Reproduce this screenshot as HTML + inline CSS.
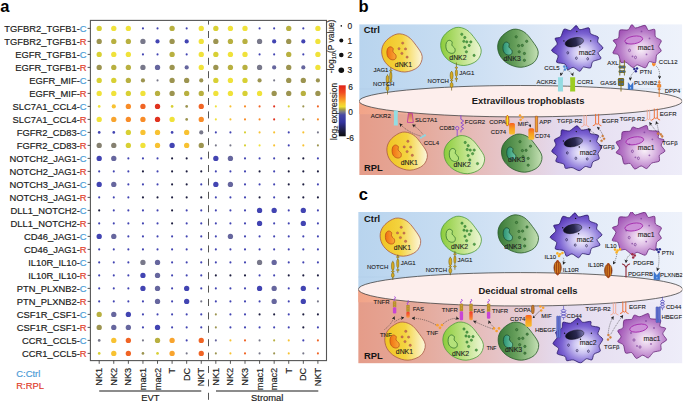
<!DOCTYPE html>
<html><head><meta charset="utf-8"><style>
html,body{margin:0;padding:0;background:#fff;}
svg{display:block;}
text{font-family:"Liberation Sans",sans-serif;}
.yl{font-size:9.4px;fill:#1c1c1c;stroke:#1c1c1c;stroke-width:0.18px;}
.xl{font-size:9.2px;fill:#1c1c1c;stroke:#1c1c1c;stroke-width:0.18px;}
.pl{font-size:16.5px;font-weight:bold;fill:#000;}
.lg{font-size:8.4px;fill:#1c1c1c;stroke:#1c1c1c;stroke-width:0.15px;}
.et{font-size:9.4px;font-weight:bold;fill:#1a1a1a;}
.ct{font-size:9.4px;font-weight:bold;fill:#141414;}
.cl{font-size:6.9px;fill:#1e1e1e;stroke:#1e1e1e;stroke-width:0.12px;}
.rl{font-size:6px;fill:#1a1a1a;stroke:#1a1a1a;stroke-width:0.1px;}
</style></head><body>
<svg width="685" height="402" viewBox="0 0 685 402">
<defs>
<linearGradient id="gNK1" x1="0" y1="0" x2="1" y2="0"><stop offset="0" stop-color="#f0c424"/><stop offset="0.5" stop-color="#f4d440"/><stop offset="1" stop-color="#fcf6dc"/></linearGradient>
<linearGradient id="gNK2" x1="0" y1="0" x2="1" y2="0"><stop offset="0" stop-color="#8ccc3c"/><stop offset="0.45" stop-color="#b8e07c"/><stop offset="1" stop-color="#eef6d6"/></linearGradient>
<linearGradient id="gNK3" x1="0" y1="0" x2="1" y2="0"><stop offset="0" stop-color="#387838"/><stop offset="0.45" stop-color="#68a05c"/><stop offset="1" stop-color="#c4e0b4"/></linearGradient>
<linearGradient id="gNuc1" x1="0" y1="0" x2="1" y2="0"><stop offset="0" stop-color="#f07010"/><stop offset="1" stop-color="#f8a838"/></linearGradient>
<linearGradient id="gNuc3" x1="0" y1="0" x2="1" y2="0"><stop offset="0" stop-color="#2a9070"/><stop offset="1" stop-color="#70c8a8"/></linearGradient>
<radialGradient id="gMac2" cx="0.6" cy="0.6" r="0.6"><stop offset="0" stop-color="#f6f4fe"/><stop offset="0.3" stop-color="#ccc4f2"/><stop offset="0.7" stop-color="#7c64d2"/><stop offset="1" stop-color="#5636b6"/></radialGradient>
<radialGradient id="gMac1" cx="0.58" cy="0.58" r="0.6"><stop offset="0" stop-color="#f8f0f8"/><stop offset="0.3" stop-color="#e2c4e8"/><stop offset="0.7" stop-color="#b87cc8"/><stop offset="1" stop-color="#a050b4"/></radialGradient>
<linearGradient id="gMN2" x1="0" y1="0" x2="1" y2="0"><stop offset="0" stop-color="#0c0c1c"/><stop offset="0.6" stop-color="#2a2850"/><stop offset="1" stop-color="#7a78b0"/></linearGradient>
<linearGradient id="gTop" x1="0" y1="0" x2="1" y2="0"><stop offset="0" stop-color="#b8d4ee"/><stop offset="0.3" stop-color="#c8ddf2"/><stop offset="0.6" stop-color="#dfe9f7"/><stop offset="1" stop-color="#eef2fb"/></linearGradient>
<linearGradient id="gBot" x1="0" y1="0" x2="1" y2="0"><stop offset="0" stop-color="#e59c89"/><stop offset="0.2" stop-color="#e5aa9c"/><stop offset="0.42" stop-color="#e6c2c4"/><stop offset="0.62" stop-color="#e4daee"/><stop offset="1" stop-color="#eeedf9"/></linearGradient>
<linearGradient id="gBand" x1="0" y1="0" x2="1" y2="0"><stop offset="0" stop-color="#f2a488"/><stop offset="0.2" stop-color="#eeb4a4"/><stop offset="0.42" stop-color="#ecc8c8"/><stop offset="0.62" stop-color="#e8def0"/><stop offset="1" stop-color="#efeefa"/></linearGradient>
<linearGradient id="gCD74" x1="0" y1="0" x2="0" y2="1"><stop offset="0" stop-color="#f86020"/><stop offset="0.5" stop-color="#f8a020"/><stop offset="1" stop-color="#f8c030"/></linearGradient>
<linearGradient id="gSlc" x1="0" y1="0" x2="0" y2="1"><stop offset="0" stop-color="#c86a50"/><stop offset="1" stop-color="#f4b484"/></linearGradient>
<linearGradient id="gFas" x1="0" y1="0" x2="0" y2="1"><stop offset="0" stop-color="#f03c28"/><stop offset="0.6" stop-color="#f86a30"/><stop offset="1" stop-color="#f8a040"/></linearGradient>
<marker id="ah" viewBox="0 0 6 6" refX="5" refY="3" markerWidth="6.6" markerHeight="6.6" orient="auto"><path d="M0,0 L6,3 L0,6 L1.5,3 Z" fill="#222"/></marker>
<clipPath id="clipB"><rect x="359.2" y="24.2" width="323" height="150.9"/></clipPath><clipPath id="clipC"><rect x="358.2" y="212" width="324.2" height="151.4"/></clipPath></defs>
<rect x="90.4" y="20.4" width="236.1" height="340.20000000000005" fill="none" stroke="#555" stroke-width="1.1"/>
<line x1="208.5" y1="20.4" x2="208.5" y2="402" stroke="#555" stroke-width="1" stroke-dasharray="7 6.4" stroke-dashoffset="2.8"/>
<line x1="87.6" y1="28.40" x2="90.4" y2="28.40" stroke="#444" stroke-width="0.9"/>
<text x="86.6" y="31.70" text-anchor="end" class="yl">TGFBR2_TGFB1-<tspan style="fill:#4b9cd6;stroke:#4b9cd6">C</tspan></text>
<line x1="87.6" y1="41.40" x2="90.4" y2="41.40" stroke="#444" stroke-width="0.9"/>
<text x="86.6" y="44.70" text-anchor="end" class="yl">TGFBR2_TGFB1-<tspan style="fill:#e0402c;stroke:#e0402c">R</tspan></text>
<line x1="87.6" y1="54.40" x2="90.4" y2="54.40" stroke="#444" stroke-width="0.9"/>
<text x="86.6" y="57.70" text-anchor="end" class="yl">EGFR_TGFB1-<tspan style="fill:#4b9cd6;stroke:#4b9cd6">C</tspan></text>
<line x1="87.6" y1="67.40" x2="90.4" y2="67.40" stroke="#444" stroke-width="0.9"/>
<text x="86.6" y="70.70" text-anchor="end" class="yl">EGFR_TGFB1-<tspan style="fill:#e0402c;stroke:#e0402c">R</tspan></text>
<line x1="87.6" y1="80.40" x2="90.4" y2="80.40" stroke="#444" stroke-width="0.9"/>
<text x="86.6" y="83.70" text-anchor="end" class="yl">EGFR_MIF-<tspan style="fill:#4b9cd6;stroke:#4b9cd6">C</tspan></text>
<line x1="87.6" y1="93.40" x2="90.4" y2="93.40" stroke="#444" stroke-width="0.9"/>
<text x="86.6" y="96.70" text-anchor="end" class="yl">EGFR_MIF-<tspan style="fill:#e0402c;stroke:#e0402c">R</tspan></text>
<line x1="87.6" y1="106.40" x2="90.4" y2="106.40" stroke="#444" stroke-width="0.9"/>
<text x="86.6" y="109.70" text-anchor="end" class="yl">SLC7A1_CCL4-<tspan style="fill:#4b9cd6;stroke:#4b9cd6">C</tspan></text>
<line x1="87.6" y1="119.40" x2="90.4" y2="119.40" stroke="#444" stroke-width="0.9"/>
<text x="86.6" y="122.70" text-anchor="end" class="yl">SLC7A1_CCL4-<tspan style="fill:#e0402c;stroke:#e0402c">R</tspan></text>
<line x1="87.6" y1="132.40" x2="90.4" y2="132.40" stroke="#444" stroke-width="0.9"/>
<text x="86.6" y="135.70" text-anchor="end" class="yl">FGFR2_CD83-<tspan style="fill:#4b9cd6;stroke:#4b9cd6">C</tspan></text>
<line x1="87.6" y1="145.40" x2="90.4" y2="145.40" stroke="#444" stroke-width="0.9"/>
<text x="86.6" y="148.70" text-anchor="end" class="yl">FGFR2_CD83-<tspan style="fill:#e0402c;stroke:#e0402c">R</tspan></text>
<line x1="87.6" y1="158.40" x2="90.4" y2="158.40" stroke="#444" stroke-width="0.9"/>
<text x="86.6" y="161.70" text-anchor="end" class="yl">NOTCH2_JAG1-<tspan style="fill:#4b9cd6;stroke:#4b9cd6">C</tspan></text>
<line x1="87.6" y1="171.40" x2="90.4" y2="171.40" stroke="#444" stroke-width="0.9"/>
<text x="86.6" y="174.70" text-anchor="end" class="yl">NOTCH2_JAG1-<tspan style="fill:#e0402c;stroke:#e0402c">R</tspan></text>
<line x1="87.6" y1="184.40" x2="90.4" y2="184.40" stroke="#444" stroke-width="0.9"/>
<text x="86.6" y="187.70" text-anchor="end" class="yl">NOTCH3_JAG1-<tspan style="fill:#4b9cd6;stroke:#4b9cd6">C</tspan></text>
<line x1="87.6" y1="197.40" x2="90.4" y2="197.40" stroke="#444" stroke-width="0.9"/>
<text x="86.6" y="200.70" text-anchor="end" class="yl">NOTCH3_JAG1-<tspan style="fill:#e0402c;stroke:#e0402c">R</tspan></text>
<line x1="87.6" y1="210.40" x2="90.4" y2="210.40" stroke="#444" stroke-width="0.9"/>
<text x="86.6" y="213.70" text-anchor="end" class="yl">DLL1_NOTCH2-<tspan style="fill:#4b9cd6;stroke:#4b9cd6">C</tspan></text>
<line x1="87.6" y1="223.40" x2="90.4" y2="223.40" stroke="#444" stroke-width="0.9"/>
<text x="86.6" y="226.70" text-anchor="end" class="yl">DLL1_NOTCH2-<tspan style="fill:#e0402c;stroke:#e0402c">R</tspan></text>
<line x1="87.6" y1="236.40" x2="90.4" y2="236.40" stroke="#444" stroke-width="0.9"/>
<text x="86.6" y="239.70" text-anchor="end" class="yl">CD46_JAG1-<tspan style="fill:#4b9cd6;stroke:#4b9cd6">C</tspan></text>
<line x1="87.6" y1="249.40" x2="90.4" y2="249.40" stroke="#444" stroke-width="0.9"/>
<text x="86.6" y="252.70" text-anchor="end" class="yl">CD46_JAG1-<tspan style="fill:#e0402c;stroke:#e0402c">R</tspan></text>
<line x1="87.6" y1="262.40" x2="90.4" y2="262.40" stroke="#444" stroke-width="0.9"/>
<text x="86.6" y="265.70" text-anchor="end" class="yl">IL10R_IL10-<tspan style="fill:#4b9cd6;stroke:#4b9cd6">C</tspan></text>
<line x1="87.6" y1="275.40" x2="90.4" y2="275.40" stroke="#444" stroke-width="0.9"/>
<text x="86.6" y="278.70" text-anchor="end" class="yl">IL10R_IL10-<tspan style="fill:#e0402c;stroke:#e0402c">R</tspan></text>
<line x1="87.6" y1="288.40" x2="90.4" y2="288.40" stroke="#444" stroke-width="0.9"/>
<text x="86.6" y="291.70" text-anchor="end" class="yl">PTN_PLXNB2-<tspan style="fill:#4b9cd6;stroke:#4b9cd6">C</tspan></text>
<line x1="87.6" y1="301.40" x2="90.4" y2="301.40" stroke="#444" stroke-width="0.9"/>
<text x="86.6" y="304.70" text-anchor="end" class="yl">PTN_PLXNB2-<tspan style="fill:#e0402c;stroke:#e0402c">R</tspan></text>
<line x1="87.6" y1="314.40" x2="90.4" y2="314.40" stroke="#444" stroke-width="0.9"/>
<text x="86.6" y="317.70" text-anchor="end" class="yl">CSF1R_CSF1-<tspan style="fill:#4b9cd6;stroke:#4b9cd6">C</tspan></text>
<line x1="87.6" y1="327.40" x2="90.4" y2="327.40" stroke="#444" stroke-width="0.9"/>
<text x="86.6" y="330.70" text-anchor="end" class="yl">CSF1R_CSF1-<tspan style="fill:#e0402c;stroke:#e0402c">R</tspan></text>
<line x1="87.6" y1="340.40" x2="90.4" y2="340.40" stroke="#444" stroke-width="0.9"/>
<text x="86.6" y="343.70" text-anchor="end" class="yl">CCR1_CCL5-<tspan style="fill:#4b9cd6;stroke:#4b9cd6">C</tspan></text>
<line x1="87.6" y1="353.40" x2="90.4" y2="353.40" stroke="#444" stroke-width="0.9"/>
<text x="86.6" y="356.70" text-anchor="end" class="yl">CCR1_CCL5-<tspan style="fill:#e0402c;stroke:#e0402c">R</tspan></text>
<circle cx="99.20" cy="28.40" r="2.65" fill="#d8d034"/>
<circle cx="113.78" cy="28.40" r="2.65" fill="#f0e23a"/>
<circle cx="128.36" cy="28.40" r="2.65" fill="#f0e23a"/>
<circle cx="142.94" cy="28.40" r="1.05" fill="#4244b2"/>
<circle cx="157.52" cy="28.40" r="1.05" fill="#4244b2"/>
<circle cx="172.10" cy="28.40" r="2.65" fill="#b8b040"/>
<circle cx="186.68" cy="28.40" r="1.05" fill="#4244b2"/>
<circle cx="201.26" cy="28.40" r="2.65" fill="#f0e23a"/>
<circle cx="215.84" cy="28.40" r="2.65" fill="#d8d034"/>
<circle cx="230.42" cy="28.40" r="2.65" fill="#f0e23a"/>
<circle cx="245.00" cy="28.40" r="2.65" fill="#f0e23a"/>
<circle cx="259.58" cy="28.40" r="1.05" fill="#4244b2"/>
<circle cx="274.16" cy="28.40" r="1.05" fill="#4244b2"/>
<circle cx="288.74" cy="28.40" r="2.65" fill="#b8b040"/>
<circle cx="303.32" cy="28.40" r="1.05" fill="#4244b2"/>
<circle cx="317.90" cy="28.40" r="2.65" fill="#f0e23a"/>
<circle cx="99.20" cy="41.40" r="2.65" fill="#9c9450"/>
<circle cx="113.78" cy="41.40" r="2.65" fill="#b8b040"/>
<circle cx="128.36" cy="41.40" r="2.65" fill="#b8b040"/>
<circle cx="142.94" cy="41.40" r="2.65" fill="#78788a"/>
<circle cx="157.52" cy="41.40" r="2.1" fill="#4244b2"/>
<circle cx="172.10" cy="41.40" r="2.65" fill="#9c9450"/>
<circle cx="186.68" cy="41.40" r="2.1" fill="#4244b2"/>
<circle cx="201.26" cy="41.40" r="2.65" fill="#f0e23a"/>
<circle cx="215.84" cy="41.40" r="2.65" fill="#9c9450"/>
<circle cx="230.42" cy="41.40" r="2.65" fill="#b8b040"/>
<circle cx="245.00" cy="41.40" r="2.65" fill="#b8b040"/>
<circle cx="259.58" cy="41.40" r="2.65" fill="#78788a"/>
<circle cx="274.16" cy="41.40" r="2.1" fill="#4244b2"/>
<circle cx="288.74" cy="41.40" r="2.65" fill="#9c9450"/>
<circle cx="303.32" cy="41.40" r="2.1" fill="#4244b2"/>
<circle cx="317.90" cy="41.40" r="2.65" fill="#f0e23a"/>
<circle cx="99.20" cy="54.40" r="2.65" fill="#d8d034"/>
<circle cx="113.78" cy="54.40" r="2.65" fill="#f0e23a"/>
<circle cx="128.36" cy="54.40" r="2.65" fill="#f0e23a"/>
<circle cx="142.94" cy="54.40" r="1.05" fill="#4244b2"/>
<circle cx="157.52" cy="54.40" r="1.05" fill="#4244b2"/>
<circle cx="172.10" cy="54.40" r="2.65" fill="#b8b040"/>
<circle cx="186.68" cy="54.40" r="1.05" fill="#4244b2"/>
<circle cx="201.26" cy="54.40" r="2.65" fill="#f0e23a"/>
<circle cx="215.84" cy="54.40" r="2.65" fill="#d8d034"/>
<circle cx="230.42" cy="54.40" r="2.65" fill="#f0e23a"/>
<circle cx="245.00" cy="54.40" r="2.65" fill="#f0e23a"/>
<circle cx="259.58" cy="54.40" r="1.05" fill="#4244b2"/>
<circle cx="274.16" cy="54.40" r="1.05" fill="#4244b2"/>
<circle cx="288.74" cy="54.40" r="2.65" fill="#b8b040"/>
<circle cx="303.32" cy="54.40" r="1.05" fill="#4244b2"/>
<circle cx="317.90" cy="54.40" r="2.65" fill="#f0e23a"/>
<circle cx="99.20" cy="67.40" r="2.65" fill="#9c9450"/>
<circle cx="113.78" cy="67.40" r="2.65" fill="#b8b040"/>
<circle cx="128.36" cy="67.40" r="2.65" fill="#b8b040"/>
<circle cx="142.94" cy="67.40" r="2.65" fill="#78788a"/>
<circle cx="157.52" cy="67.40" r="2.65" fill="#66669e"/>
<circle cx="172.10" cy="67.40" r="2.65" fill="#9c9450"/>
<circle cx="186.68" cy="67.40" r="2.1" fill="#66669e"/>
<circle cx="201.26" cy="67.40" r="2.65" fill="#f0e23a"/>
<circle cx="215.84" cy="67.40" r="2.65" fill="#9c9450"/>
<circle cx="230.42" cy="67.40" r="2.65" fill="#b8b040"/>
<circle cx="245.00" cy="67.40" r="2.65" fill="#b8b040"/>
<circle cx="259.58" cy="67.40" r="2.65" fill="#78788a"/>
<circle cx="274.16" cy="67.40" r="2.1" fill="#66669e"/>
<circle cx="288.74" cy="67.40" r="2.65" fill="#9c9450"/>
<circle cx="303.32" cy="67.40" r="2.1" fill="#66669e"/>
<circle cx="317.90" cy="67.40" r="2.65" fill="#f0e23a"/>
<circle cx="99.20" cy="80.40" r="2.65" fill="#d8d034"/>
<circle cx="113.78" cy="80.40" r="2.65" fill="#d8d034"/>
<circle cx="128.36" cy="80.40" r="2.65" fill="#b8b040"/>
<circle cx="142.94" cy="80.40" r="2.1" fill="#9c9450"/>
<circle cx="157.52" cy="80.40" r="1.05" fill="#78788a"/>
<circle cx="172.10" cy="80.40" r="2.65" fill="#9c9450"/>
<circle cx="186.68" cy="80.40" r="2.65" fill="#9c9450"/>
<circle cx="201.26" cy="80.40" r="2.1" fill="#9c9450"/>
<circle cx="215.84" cy="80.40" r="2.65" fill="#d8d034"/>
<circle cx="230.42" cy="80.40" r="2.65" fill="#f0e23a"/>
<circle cx="245.00" cy="80.40" r="2.65" fill="#d8d034"/>
<circle cx="259.58" cy="80.40" r="2.1" fill="#9c9450"/>
<circle cx="274.16" cy="80.40" r="1.05" fill="#78788a"/>
<circle cx="288.74" cy="80.40" r="2.65" fill="#9c9450"/>
<circle cx="303.32" cy="80.40" r="2.65" fill="#9c9450"/>
<circle cx="317.90" cy="80.40" r="2.1" fill="#9c9450"/>
<circle cx="99.20" cy="93.40" r="2.65" fill="#f0e23a"/>
<circle cx="113.78" cy="93.40" r="2.65" fill="#f0e23a"/>
<circle cx="128.36" cy="93.40" r="2.65" fill="#d8d034"/>
<circle cx="142.94" cy="93.40" r="2.65" fill="#f0e23a"/>
<circle cx="157.52" cy="93.40" r="2.65" fill="#b8b040"/>
<circle cx="172.10" cy="93.40" r="2.65" fill="#9c9450"/>
<circle cx="186.68" cy="93.40" r="2.65" fill="#b8b040"/>
<circle cx="201.26" cy="93.40" r="2.65" fill="#b8b040"/>
<circle cx="215.84" cy="93.40" r="2.65" fill="#f0e23a"/>
<circle cx="230.42" cy="93.40" r="2.65" fill="#f0e23a"/>
<circle cx="245.00" cy="93.40" r="2.65" fill="#d8d034"/>
<circle cx="259.58" cy="93.40" r="2.65" fill="#f0e23a"/>
<circle cx="274.16" cy="93.40" r="2.65" fill="#9c9450"/>
<circle cx="288.74" cy="93.40" r="2.65" fill="#9c9450"/>
<circle cx="303.32" cy="93.40" r="2.65" fill="#b8b040"/>
<circle cx="317.90" cy="93.40" r="2.65" fill="#9c9450"/>
<circle cx="99.20" cy="106.40" r="1.35" fill="#f0e23a"/>
<circle cx="113.78" cy="106.40" r="2.1" fill="#f8c232"/>
<circle cx="128.36" cy="106.40" r="2.65" fill="#f88c28"/>
<circle cx="142.94" cy="106.40" r="2.65" fill="#f06424"/>
<circle cx="157.52" cy="106.40" r="2.65" fill="#e0321e"/>
<circle cx="172.10" cy="106.40" r="1.35" fill="#d8d034"/>
<circle cx="186.68" cy="106.40" r="1.35" fill="#9c9450"/>
<circle cx="201.26" cy="106.40" r="2.65" fill="#f06424"/>
<circle cx="215.84" cy="106.40" r="1.05" fill="#f0e23a"/>
<circle cx="230.42" cy="106.40" r="1.05" fill="#f8c232"/>
<circle cx="245.00" cy="106.40" r="1.05" fill="#f88c28"/>
<circle cx="259.58" cy="106.40" r="1.05" fill="#f06424"/>
<circle cx="274.16" cy="106.40" r="1.05" fill="#e0321e"/>
<circle cx="288.74" cy="106.40" r="1.05" fill="#d8d034"/>
<circle cx="303.32" cy="106.40" r="1.05" fill="#9c9450"/>
<circle cx="317.90" cy="106.40" r="1.05" fill="#f06424"/>
<circle cx="99.20" cy="119.40" r="2.65" fill="#f0e23a"/>
<circle cx="113.78" cy="119.40" r="2.65" fill="#f8a42e"/>
<circle cx="128.36" cy="119.40" r="2.65" fill="#f88c28"/>
<circle cx="142.94" cy="119.40" r="2.65" fill="#f88c28"/>
<circle cx="157.52" cy="119.40" r="2.65" fill="#e0321e"/>
<circle cx="172.10" cy="119.40" r="2.65" fill="#f0e23a"/>
<circle cx="186.68" cy="119.40" r="1.35" fill="#9c9450"/>
<circle cx="201.26" cy="119.40" r="2.65" fill="#f88c28"/>
<circle cx="215.84" cy="119.40" r="1.05" fill="#f0e23a"/>
<circle cx="230.42" cy="119.40" r="1.05" fill="#f8c232"/>
<circle cx="245.00" cy="119.40" r="1.05" fill="#f88c28"/>
<circle cx="259.58" cy="119.40" r="1.05" fill="#f88c28"/>
<circle cx="274.16" cy="119.40" r="1.05" fill="#e0321e"/>
<circle cx="288.74" cy="119.40" r="1.05" fill="#f0e23a"/>
<circle cx="303.32" cy="119.40" r="1.05" fill="#9c9450"/>
<circle cx="317.90" cy="119.40" r="1.05" fill="#f88c28"/>
<circle cx="99.20" cy="132.40" r="1.35" fill="#4244b2"/>
<circle cx="113.78" cy="132.40" r="1.35" fill="#4244b2"/>
<circle cx="128.36" cy="132.40" r="2.65" fill="#d8d034"/>
<circle cx="142.94" cy="132.40" r="2.65" fill="#f8c232"/>
<circle cx="157.52" cy="132.40" r="2.65" fill="#f8c232"/>
<circle cx="172.10" cy="132.40" r="1.35" fill="#4244b2"/>
<circle cx="186.68" cy="132.40" r="2.65" fill="#f8c232"/>
<circle cx="201.26" cy="132.40" r="2.1" fill="#78788a"/>
<circle cx="215.84" cy="132.40" r="1.05" fill="#4244b2"/>
<circle cx="230.42" cy="132.40" r="1.05" fill="#4244b2"/>
<circle cx="245.00" cy="132.40" r="1.05" fill="#d8d034"/>
<circle cx="259.58" cy="132.40" r="1.05" fill="#f8c232"/>
<circle cx="274.16" cy="132.40" r="1.05" fill="#f8c232"/>
<circle cx="288.74" cy="132.40" r="1.05" fill="#4244b2"/>
<circle cx="303.32" cy="132.40" r="1.05" fill="#f8c232"/>
<circle cx="317.90" cy="132.40" r="1.05" fill="#78788a"/>
<circle cx="99.20" cy="145.40" r="2.65" fill="#858070"/>
<circle cx="113.78" cy="145.40" r="2.65" fill="#858070"/>
<circle cx="128.36" cy="145.40" r="2.65" fill="#d8d034"/>
<circle cx="142.94" cy="145.40" r="2.65" fill="#f0e23a"/>
<circle cx="157.52" cy="145.40" r="2.65" fill="#f8c232"/>
<circle cx="172.10" cy="145.40" r="2.65" fill="#4244b2"/>
<circle cx="186.68" cy="145.40" r="2.65" fill="#f8c232"/>
<circle cx="201.26" cy="145.40" r="2.65" fill="#9c9450"/>
<circle cx="215.84" cy="145.40" r="1.05" fill="#78788a"/>
<circle cx="230.42" cy="145.40" r="1.05" fill="#78788a"/>
<circle cx="245.00" cy="145.40" r="1.05" fill="#d8d034"/>
<circle cx="259.58" cy="145.40" r="1.05" fill="#f0e23a"/>
<circle cx="274.16" cy="145.40" r="1.05" fill="#f8c232"/>
<circle cx="288.74" cy="145.40" r="1.05" fill="#4244b2"/>
<circle cx="303.32" cy="145.40" r="1.05" fill="#f8c232"/>
<circle cx="317.90" cy="145.40" r="1.05" fill="#9c9450"/>
<circle cx="99.20" cy="158.40" r="2.65" fill="#4244b2"/>
<circle cx="113.78" cy="158.40" r="2.65" fill="#66669e"/>
<circle cx="128.36" cy="158.40" r="1.05" fill="#4244b2"/>
<circle cx="142.94" cy="158.40" r="1.05" fill="#4244b2"/>
<circle cx="157.52" cy="158.40" r="1.05" fill="#4244b2"/>
<circle cx="172.10" cy="158.40" r="1.05" fill="#1e1e40"/>
<circle cx="186.68" cy="158.40" r="1.05" fill="#1e1e40"/>
<circle cx="201.26" cy="158.40" r="1.05" fill="#4244b2"/>
<circle cx="215.84" cy="158.40" r="2.65" fill="#4244b2"/>
<circle cx="230.42" cy="158.40" r="2.65" fill="#66669e"/>
<circle cx="245.00" cy="158.40" r="1.05" fill="#4244b2"/>
<circle cx="259.58" cy="158.40" r="1.05" fill="#4244b2"/>
<circle cx="274.16" cy="158.40" r="1.05" fill="#4244b2"/>
<circle cx="288.74" cy="158.40" r="1.05" fill="#1e1e40"/>
<circle cx="303.32" cy="158.40" r="1.05" fill="#1e1e40"/>
<circle cx="317.90" cy="158.40" r="1.05" fill="#4244b2"/>
<circle cx="99.20" cy="171.40" r="1.05" fill="#4244b2"/>
<circle cx="113.78" cy="171.40" r="1.05" fill="#4244b2"/>
<circle cx="128.36" cy="171.40" r="1.05" fill="#4244b2"/>
<circle cx="142.94" cy="171.40" r="1.05" fill="#1e1e40"/>
<circle cx="157.52" cy="171.40" r="1.05" fill="#4244b2"/>
<circle cx="172.10" cy="171.40" r="1.05" fill="#1e1e40"/>
<circle cx="186.68" cy="171.40" r="1.05" fill="#1e1e40"/>
<circle cx="201.26" cy="171.40" r="1.05" fill="#1e1e40"/>
<circle cx="215.84" cy="171.40" r="1.05" fill="#4244b2"/>
<circle cx="230.42" cy="171.40" r="1.05" fill="#4244b2"/>
<circle cx="245.00" cy="171.40" r="1.05" fill="#4244b2"/>
<circle cx="259.58" cy="171.40" r="1.05" fill="#1e1e40"/>
<circle cx="274.16" cy="171.40" r="1.05" fill="#4244b2"/>
<circle cx="288.74" cy="171.40" r="1.05" fill="#1e1e40"/>
<circle cx="303.32" cy="171.40" r="1.05" fill="#1e1e40"/>
<circle cx="317.90" cy="171.40" r="1.05" fill="#1e1e40"/>
<circle cx="99.20" cy="184.40" r="2.65" fill="#4244b2"/>
<circle cx="113.78" cy="184.40" r="2.65" fill="#66669e"/>
<circle cx="128.36" cy="184.40" r="1.05" fill="#4244b2"/>
<circle cx="142.94" cy="184.40" r="1.05" fill="#4244b2"/>
<circle cx="157.52" cy="184.40" r="1.05" fill="#4244b2"/>
<circle cx="172.10" cy="184.40" r="1.05" fill="#1e1e40"/>
<circle cx="186.68" cy="184.40" r="1.05" fill="#1e1e40"/>
<circle cx="201.26" cy="184.40" r="1.05" fill="#4244b2"/>
<circle cx="215.84" cy="184.40" r="2.65" fill="#4244b2"/>
<circle cx="230.42" cy="184.40" r="2.65" fill="#66669e"/>
<circle cx="245.00" cy="184.40" r="1.05" fill="#4244b2"/>
<circle cx="259.58" cy="184.40" r="1.05" fill="#4244b2"/>
<circle cx="274.16" cy="184.40" r="1.05" fill="#4244b2"/>
<circle cx="288.74" cy="184.40" r="1.05" fill="#1e1e40"/>
<circle cx="303.32" cy="184.40" r="1.05" fill="#1e1e40"/>
<circle cx="317.90" cy="184.40" r="1.05" fill="#4244b2"/>
<circle cx="99.20" cy="197.40" r="1.05" fill="#4244b2"/>
<circle cx="113.78" cy="197.40" r="1.05" fill="#4244b2"/>
<circle cx="128.36" cy="197.40" r="1.05" fill="#4244b2"/>
<circle cx="142.94" cy="197.40" r="1.05" fill="#1e1e40"/>
<circle cx="157.52" cy="197.40" r="1.05" fill="#1e1e40"/>
<circle cx="172.10" cy="197.40" r="1.05" fill="#1e1e40"/>
<circle cx="186.68" cy="197.40" r="1.05" fill="#1e1e40"/>
<circle cx="201.26" cy="197.40" r="1.05" fill="#1e1e40"/>
<circle cx="215.84" cy="197.40" r="1.05" fill="#4244b2"/>
<circle cx="230.42" cy="197.40" r="1.05" fill="#4244b2"/>
<circle cx="245.00" cy="197.40" r="1.05" fill="#4244b2"/>
<circle cx="259.58" cy="197.40" r="1.05" fill="#1e1e40"/>
<circle cx="274.16" cy="197.40" r="1.05" fill="#4244b2"/>
<circle cx="288.74" cy="197.40" r="1.05" fill="#1e1e40"/>
<circle cx="303.32" cy="197.40" r="1.05" fill="#1e1e40"/>
<circle cx="317.90" cy="197.40" r="1.05" fill="#1e1e40"/>
<circle cx="99.20" cy="210.40" r="1.05" fill="#1e1e40"/>
<circle cx="113.78" cy="210.40" r="1.05" fill="#4244b2"/>
<circle cx="128.36" cy="210.40" r="1.05" fill="#4244b2"/>
<circle cx="142.94" cy="210.40" r="1.05" fill="#4244b2"/>
<circle cx="157.52" cy="210.40" r="1.05" fill="#4244b2"/>
<circle cx="172.10" cy="210.40" r="1.05" fill="#1e1e40"/>
<circle cx="186.68" cy="210.40" r="1.05" fill="#4244b2"/>
<circle cx="201.26" cy="210.40" r="1.05" fill="#4244b2"/>
<circle cx="215.84" cy="210.40" r="1.05" fill="#4244b2"/>
<circle cx="230.42" cy="210.40" r="1.05" fill="#4244b2"/>
<circle cx="245.00" cy="210.40" r="1.05" fill="#4244b2"/>
<circle cx="259.58" cy="210.40" r="2.65" fill="#4244b2"/>
<circle cx="274.16" cy="210.40" r="2.65" fill="#4244b2"/>
<circle cx="288.74" cy="210.40" r="1.05" fill="#4244b2"/>
<circle cx="303.32" cy="210.40" r="2.65" fill="#4244b2"/>
<circle cx="317.90" cy="210.40" r="1.05" fill="#4244b2"/>
<circle cx="99.20" cy="223.40" r="1.05" fill="#4244b2"/>
<circle cx="113.78" cy="223.40" r="1.05" fill="#4244b2"/>
<circle cx="128.36" cy="223.40" r="1.05" fill="#4244b2"/>
<circle cx="142.94" cy="223.40" r="1.05" fill="#4244b2"/>
<circle cx="157.52" cy="223.40" r="1.05" fill="#4244b2"/>
<circle cx="172.10" cy="223.40" r="1.05" fill="#1e1e40"/>
<circle cx="186.68" cy="223.40" r="1.05" fill="#4244b2"/>
<circle cx="201.26" cy="223.40" r="1.05" fill="#4244b2"/>
<circle cx="215.84" cy="223.40" r="1.05" fill="#4244b2"/>
<circle cx="230.42" cy="223.40" r="1.05" fill="#4244b2"/>
<circle cx="245.00" cy="223.40" r="1.05" fill="#4244b2"/>
<circle cx="259.58" cy="223.40" r="2.65" fill="#4244b2"/>
<circle cx="274.16" cy="223.40" r="1.05" fill="#4244b2"/>
<circle cx="288.74" cy="223.40" r="1.05" fill="#4244b2"/>
<circle cx="303.32" cy="223.40" r="2.65" fill="#4244b2"/>
<circle cx="317.90" cy="223.40" r="1.05" fill="#4244b2"/>
<circle cx="99.20" cy="236.40" r="2.65" fill="#4244b2"/>
<circle cx="113.78" cy="236.40" r="2.65" fill="#66669e"/>
<circle cx="128.36" cy="236.40" r="1.05" fill="#4244b2"/>
<circle cx="142.94" cy="236.40" r="1.05" fill="#4244b2"/>
<circle cx="157.52" cy="236.40" r="1.05" fill="#4244b2"/>
<circle cx="172.10" cy="236.40" r="1.05" fill="#4244b2"/>
<circle cx="186.68" cy="236.40" r="1.05" fill="#4244b2"/>
<circle cx="201.26" cy="236.40" r="1.05" fill="#4244b2"/>
<circle cx="215.84" cy="236.40" r="1.05" fill="#4244b2"/>
<circle cx="230.42" cy="236.40" r="2.65" fill="#66669e"/>
<circle cx="245.00" cy="236.40" r="1.05" fill="#4244b2"/>
<circle cx="259.58" cy="236.40" r="1.05" fill="#4244b2"/>
<circle cx="274.16" cy="236.40" r="1.05" fill="#4244b2"/>
<circle cx="288.74" cy="236.40" r="1.05" fill="#4244b2"/>
<circle cx="303.32" cy="236.40" r="1.05" fill="#4244b2"/>
<circle cx="317.90" cy="236.40" r="1.05" fill="#4244b2"/>
<circle cx="99.20" cy="249.40" r="1.05" fill="#4244b2"/>
<circle cx="113.78" cy="249.40" r="1.05" fill="#4244b2"/>
<circle cx="128.36" cy="249.40" r="1.05" fill="#4244b2"/>
<circle cx="142.94" cy="249.40" r="1.05" fill="#4244b2"/>
<circle cx="157.52" cy="249.40" r="1.05" fill="#4244b2"/>
<circle cx="172.10" cy="249.40" r="1.05" fill="#4244b2"/>
<circle cx="186.68" cy="249.40" r="1.05" fill="#4244b2"/>
<circle cx="201.26" cy="249.40" r="1.05" fill="#4244b2"/>
<circle cx="215.84" cy="249.40" r="1.05" fill="#4244b2"/>
<circle cx="230.42" cy="249.40" r="1.05" fill="#4244b2"/>
<circle cx="245.00" cy="249.40" r="1.05" fill="#4244b2"/>
<circle cx="259.58" cy="249.40" r="1.05" fill="#4244b2"/>
<circle cx="274.16" cy="249.40" r="1.05" fill="#4244b2"/>
<circle cx="288.74" cy="249.40" r="1.05" fill="#4244b2"/>
<circle cx="303.32" cy="249.40" r="1.05" fill="#4244b2"/>
<circle cx="317.90" cy="249.40" r="1.05" fill="#4244b2"/>
<circle cx="99.20" cy="262.40" r="1.05" fill="#4244b2"/>
<circle cx="113.78" cy="262.40" r="1.05" fill="#4244b2"/>
<circle cx="128.36" cy="262.40" r="1.05" fill="#4244b2"/>
<circle cx="142.94" cy="262.40" r="2.65" fill="#78788a"/>
<circle cx="157.52" cy="262.40" r="2.65" fill="#66669e"/>
<circle cx="172.10" cy="262.40" r="1.05" fill="#4244b2"/>
<circle cx="186.68" cy="262.40" r="1.05" fill="#4244b2"/>
<circle cx="201.26" cy="262.40" r="1.05" fill="#4244b2"/>
<circle cx="215.84" cy="262.40" r="1.05" fill="#4244b2"/>
<circle cx="230.42" cy="262.40" r="1.05" fill="#4244b2"/>
<circle cx="245.00" cy="262.40" r="1.05" fill="#4244b2"/>
<circle cx="259.58" cy="262.40" r="2.65" fill="#78788a"/>
<circle cx="274.16" cy="262.40" r="2.65" fill="#66669e"/>
<circle cx="288.74" cy="262.40" r="1.05" fill="#4244b2"/>
<circle cx="303.32" cy="262.40" r="1.05" fill="#4244b2"/>
<circle cx="317.90" cy="262.40" r="1.05" fill="#4244b2"/>
<circle cx="99.20" cy="275.40" r="1.05" fill="#4244b2"/>
<circle cx="113.78" cy="275.40" r="1.05" fill="#4244b2"/>
<circle cx="128.36" cy="275.40" r="1.05" fill="#4244b2"/>
<circle cx="142.94" cy="275.40" r="2.65" fill="#4244b2"/>
<circle cx="157.52" cy="275.40" r="2.65" fill="#66669e"/>
<circle cx="172.10" cy="275.40" r="1.05" fill="#4244b2"/>
<circle cx="186.68" cy="275.40" r="1.05" fill="#4244b2"/>
<circle cx="201.26" cy="275.40" r="1.05" fill="#4244b2"/>
<circle cx="215.84" cy="275.40" r="1.05" fill="#1e1e40"/>
<circle cx="230.42" cy="275.40" r="1.05" fill="#1e1e40"/>
<circle cx="245.00" cy="275.40" r="1.05" fill="#1e1e40"/>
<circle cx="259.58" cy="275.40" r="1.05" fill="#4244b2"/>
<circle cx="274.16" cy="275.40" r="1.05" fill="#4244b2"/>
<circle cx="288.74" cy="275.40" r="1.05" fill="#1e1e40"/>
<circle cx="303.32" cy="275.40" r="1.05" fill="#1e1e40"/>
<circle cx="317.90" cy="275.40" r="1.05" fill="#1e1e40"/>
<circle cx="99.20" cy="288.40" r="1.05" fill="#4244b2"/>
<circle cx="113.78" cy="288.40" r="1.05" fill="#4244b2"/>
<circle cx="128.36" cy="288.40" r="1.05" fill="#4244b2"/>
<circle cx="142.94" cy="288.40" r="2.65" fill="#4244b2"/>
<circle cx="157.52" cy="288.40" r="2.65" fill="#66669e"/>
<circle cx="172.10" cy="288.40" r="1.05" fill="#4244b2"/>
<circle cx="186.68" cy="288.40" r="2.65" fill="#4244b2"/>
<circle cx="201.26" cy="288.40" r="1.05" fill="#4244b2"/>
<circle cx="215.84" cy="288.40" r="1.05" fill="#4244b2"/>
<circle cx="230.42" cy="288.40" r="1.05" fill="#4244b2"/>
<circle cx="245.00" cy="288.40" r="1.05" fill="#4244b2"/>
<circle cx="259.58" cy="288.40" r="2.65" fill="#4244b2"/>
<circle cx="274.16" cy="288.40" r="2.65" fill="#66669e"/>
<circle cx="288.74" cy="288.40" r="1.05" fill="#4244b2"/>
<circle cx="303.32" cy="288.40" r="2.65" fill="#4244b2"/>
<circle cx="317.90" cy="288.40" r="1.05" fill="#4244b2"/>
<circle cx="99.20" cy="301.40" r="1.05" fill="#4244b2"/>
<circle cx="113.78" cy="301.40" r="1.05" fill="#4244b2"/>
<circle cx="128.36" cy="301.40" r="1.05" fill="#4244b2"/>
<circle cx="142.94" cy="301.40" r="1.05" fill="#4244b2"/>
<circle cx="157.52" cy="301.40" r="2.65" fill="#66669e"/>
<circle cx="172.10" cy="301.40" r="1.05" fill="#4244b2"/>
<circle cx="186.68" cy="301.40" r="2.65" fill="#4244b2"/>
<circle cx="201.26" cy="301.40" r="1.05" fill="#78788a"/>
<circle cx="215.84" cy="301.40" r="1.05" fill="#4244b2"/>
<circle cx="230.42" cy="301.40" r="1.05" fill="#4244b2"/>
<circle cx="245.00" cy="301.40" r="1.05" fill="#4244b2"/>
<circle cx="259.58" cy="301.40" r="1.05" fill="#4244b2"/>
<circle cx="274.16" cy="301.40" r="2.65" fill="#66669e"/>
<circle cx="288.74" cy="301.40" r="1.05" fill="#4244b2"/>
<circle cx="303.32" cy="301.40" r="2.65" fill="#4244b2"/>
<circle cx="317.90" cy="301.40" r="1.05" fill="#78788a"/>
<circle cx="99.20" cy="314.40" r="2.65" fill="#b8b040"/>
<circle cx="113.78" cy="314.40" r="2.65" fill="#66669e"/>
<circle cx="128.36" cy="314.40" r="2.65" fill="#4244b2"/>
<circle cx="142.94" cy="314.40" r="1.05" fill="#4244b2"/>
<circle cx="157.52" cy="314.40" r="1.05" fill="#4244b2"/>
<circle cx="172.10" cy="314.40" r="1.05" fill="#4244b2"/>
<circle cx="186.68" cy="314.40" r="1.05" fill="#4244b2"/>
<circle cx="201.26" cy="314.40" r="1.05" fill="#4244b2"/>
<circle cx="215.84" cy="314.40" r="1.05" fill="#9c9450"/>
<circle cx="230.42" cy="314.40" r="1.05" fill="#4244b2"/>
<circle cx="245.00" cy="314.40" r="1.05" fill="#4244b2"/>
<circle cx="259.58" cy="314.40" r="1.05" fill="#1e1e40"/>
<circle cx="274.16" cy="314.40" r="1.05" fill="#1e1e40"/>
<circle cx="288.74" cy="314.40" r="1.05" fill="#4244b2"/>
<circle cx="303.32" cy="314.40" r="1.05" fill="#1e1e40"/>
<circle cx="317.90" cy="314.40" r="1.05" fill="#1e1e40"/>
<circle cx="99.20" cy="327.40" r="2.65" fill="#9c9450"/>
<circle cx="113.78" cy="327.40" r="2.65" fill="#66669e"/>
<circle cx="128.36" cy="327.40" r="2.65" fill="#66669e"/>
<circle cx="142.94" cy="327.40" r="1.05" fill="#4244b2"/>
<circle cx="157.52" cy="327.40" r="2.65" fill="#4244b2"/>
<circle cx="172.10" cy="327.40" r="1.05" fill="#4244b2"/>
<circle cx="186.68" cy="327.40" r="1.05" fill="#4244b2"/>
<circle cx="201.26" cy="327.40" r="1.05" fill="#4244b2"/>
<circle cx="215.84" cy="327.40" r="1.05" fill="#9c9450"/>
<circle cx="230.42" cy="327.40" r="1.05" fill="#4244b2"/>
<circle cx="245.00" cy="327.40" r="1.05" fill="#4244b2"/>
<circle cx="259.58" cy="327.40" r="1.05" fill="#4244b2"/>
<circle cx="274.16" cy="327.40" r="1.05" fill="#4244b2"/>
<circle cx="288.74" cy="327.40" r="1.05" fill="#4244b2"/>
<circle cx="303.32" cy="327.40" r="1.05" fill="#1e1e40"/>
<circle cx="317.90" cy="327.40" r="1.05" fill="#4244b2"/>
<circle cx="99.20" cy="340.40" r="1.35" fill="#78788a"/>
<circle cx="113.78" cy="340.40" r="2.65" fill="#f8c232"/>
<circle cx="128.36" cy="340.40" r="2.65" fill="#f06424"/>
<circle cx="142.94" cy="340.40" r="1.05" fill="#78788a"/>
<circle cx="157.52" cy="340.40" r="2.65" fill="#b8b040"/>
<circle cx="172.10" cy="340.40" r="2.65" fill="#f8a42e"/>
<circle cx="186.68" cy="340.40" r="1.05" fill="#4244b2"/>
<circle cx="201.26" cy="340.40" r="2.65" fill="#f06424"/>
<circle cx="215.84" cy="340.40" r="1.05" fill="#66669e"/>
<circle cx="230.42" cy="340.40" r="1.05" fill="#f8c232"/>
<circle cx="245.00" cy="340.40" r="1.05" fill="#f06424"/>
<circle cx="259.58" cy="340.40" r="1.05" fill="#78788a"/>
<circle cx="274.16" cy="340.40" r="1.05" fill="#b8b040"/>
<circle cx="288.74" cy="340.40" r="1.05" fill="#f8c232"/>
<circle cx="303.32" cy="340.40" r="1.05" fill="#4244b2"/>
<circle cx="317.90" cy="340.40" r="1.05" fill="#f06424"/>
<circle cx="99.20" cy="353.40" r="1.35" fill="#d8d034"/>
<circle cx="113.78" cy="353.40" r="2.65" fill="#f8c232"/>
<circle cx="128.36" cy="353.40" r="2.65" fill="#f06424"/>
<circle cx="142.94" cy="353.40" r="1.35" fill="#9c9450"/>
<circle cx="157.52" cy="353.40" r="1.35" fill="#d8d034"/>
<circle cx="172.10" cy="353.40" r="2.65" fill="#f8a42e"/>
<circle cx="186.68" cy="353.40" r="1.05" fill="#78788a"/>
<circle cx="201.26" cy="353.40" r="2.65" fill="#f06424"/>
<circle cx="215.84" cy="353.40" r="1.05" fill="#9c9450"/>
<circle cx="230.42" cy="353.40" r="1.05" fill="#f8c232"/>
<circle cx="245.00" cy="353.40" r="1.05" fill="#f06424"/>
<circle cx="259.58" cy="353.40" r="1.05" fill="#78788a"/>
<circle cx="274.16" cy="353.40" r="1.05" fill="#9c9450"/>
<circle cx="288.74" cy="353.40" r="1.05" fill="#f8c232"/>
<circle cx="303.32" cy="353.40" r="1.05" fill="#78788a"/>
<circle cx="317.90" cy="353.40" r="1.05" fill="#f06424"/>
<line x1="99.20" y1="360.6" x2="99.20" y2="363.8" stroke="#444" stroke-width="0.9"/>
<text transform="translate(102.20,367.8) rotate(-90)" text-anchor="end" class="xl">NK1</text>
<line x1="113.78" y1="360.6" x2="113.78" y2="363.8" stroke="#444" stroke-width="0.9"/>
<text transform="translate(116.78,367.8) rotate(-90)" text-anchor="end" class="xl">NK2</text>
<line x1="128.36" y1="360.6" x2="128.36" y2="363.8" stroke="#444" stroke-width="0.9"/>
<text transform="translate(131.36,367.8) rotate(-90)" text-anchor="end" class="xl">NK3</text>
<line x1="142.94" y1="360.6" x2="142.94" y2="363.8" stroke="#444" stroke-width="0.9"/>
<text transform="translate(145.94,367.8) rotate(-90)" text-anchor="end" class="xl">mac1</text>
<line x1="157.52" y1="360.6" x2="157.52" y2="363.8" stroke="#444" stroke-width="0.9"/>
<text transform="translate(160.52,367.8) rotate(-90)" text-anchor="end" class="xl">mac2</text>
<line x1="172.10" y1="360.6" x2="172.10" y2="363.8" stroke="#444" stroke-width="0.9"/>
<text transform="translate(175.10,367.8) rotate(-90)" text-anchor="end" class="xl">T</text>
<line x1="186.68" y1="360.6" x2="186.68" y2="363.8" stroke="#444" stroke-width="0.9"/>
<text transform="translate(189.68,367.8) rotate(-90)" text-anchor="end" class="xl">DC</text>
<line x1="201.26" y1="360.6" x2="201.26" y2="363.8" stroke="#444" stroke-width="0.9"/>
<text transform="translate(204.26,367.8) rotate(-90)" text-anchor="end" class="xl">NKT</text>
<line x1="215.84" y1="360.6" x2="215.84" y2="363.8" stroke="#444" stroke-width="0.9"/>
<text transform="translate(218.84,367.8) rotate(-90)" text-anchor="end" class="xl">NK1</text>
<line x1="230.42" y1="360.6" x2="230.42" y2="363.8" stroke="#444" stroke-width="0.9"/>
<text transform="translate(233.42,367.8) rotate(-90)" text-anchor="end" class="xl">NK2</text>
<line x1="245.00" y1="360.6" x2="245.00" y2="363.8" stroke="#444" stroke-width="0.9"/>
<text transform="translate(248.00,367.8) rotate(-90)" text-anchor="end" class="xl">NK3</text>
<line x1="259.58" y1="360.6" x2="259.58" y2="363.8" stroke="#444" stroke-width="0.9"/>
<text transform="translate(262.58,367.8) rotate(-90)" text-anchor="end" class="xl">mac1</text>
<line x1="274.16" y1="360.6" x2="274.16" y2="363.8" stroke="#444" stroke-width="0.9"/>
<text transform="translate(277.16,367.8) rotate(-90)" text-anchor="end" class="xl">mac2</text>
<line x1="288.74" y1="360.6" x2="288.74" y2="363.8" stroke="#444" stroke-width="0.9"/>
<text transform="translate(291.74,367.8) rotate(-90)" text-anchor="end" class="xl">T</text>
<line x1="303.32" y1="360.6" x2="303.32" y2="363.8" stroke="#444" stroke-width="0.9"/>
<text transform="translate(306.32,367.8) rotate(-90)" text-anchor="end" class="xl">DC</text>
<line x1="317.90" y1="360.6" x2="317.90" y2="363.8" stroke="#444" stroke-width="0.9"/>
<text transform="translate(320.90,367.8) rotate(-90)" text-anchor="end" class="xl">NKT</text>
<line x1="99.2" y1="391" x2="201.3" y2="391" stroke="#666" stroke-width="1.4"/>
<line x1="216" y1="391" x2="318.3" y2="391" stroke="#666" stroke-width="1.4"/>
<text x="150.3" y="401" text-anchor="middle" class="yl">EVT</text>
<text x="267.2" y="401" text-anchor="middle" class="yl">Stromal</text>
<text x="16.3" y="376.8" class="yl" style="fill:#4b9cd6;stroke:#4b9cd6">C:Ctrl</text>
<text x="16.3" y="388.8" class="yl" style="fill:#e0402c;stroke:#e0402c">R:RPL</text>
<text x="0.3" y="12.0" class="pl">a</text>
<text transform="translate(334.3,73.2) rotate(-90)" class="lg">-log<tspan font-size="5.6" dy="1.5">10</tspan><tspan dy="-1.5">(P value)</tspan></text>
<circle cx="341.3" cy="25.9" r="0.8" fill="#111"/>
<text x="347.6" y="29.0" class="lg">0</text>
<circle cx="341.3" cy="40.6" r="2.0" fill="#111"/>
<text x="347.6" y="43.7" class="lg">1</text>
<circle cx="341.3" cy="55.0" r="2.3" fill="#111"/>
<text x="347.6" y="58.1" class="lg">2</text>
<circle cx="341.3" cy="70.2" r="2.8" fill="#111"/>
<text x="347.6" y="73.3" class="lg">3</text>
<defs><linearGradient id="cbar" x1="0" y1="0" x2="0" y2="1"><stop offset="0" stop-color="#e02418"/><stop offset="0.14" stop-color="#f04a20"/><stop offset="0.26" stop-color="#f88c24"/><stop offset="0.36" stop-color="#f8c830"/><stop offset="0.42" stop-color="#f0e030"/><stop offset="0.47" stop-color="#a8a040"/><stop offset="0.52" stop-color="#7c7c84"/><stop offset="0.58" stop-color="#4848a4"/><stop offset="0.72" stop-color="#3434a0"/><stop offset="0.86" stop-color="#202050"/><stop offset="1" stop-color="#0c0c0c"/></linearGradient></defs>
<rect x="338.8" y="85.3" width="6.9" height="51" fill="url(#cbar)"/>
<text transform="translate(336.6,140) rotate(-90)" class="lg">log<tspan font-size="5.6" dy="1.5">2</tspan><tspan dy="-1.5"> expression</tspan></text>
<text x="348.2" y="90" class="lg">6</text>
<text x="348.2" y="115" class="lg">0</text>
<text x="346.5" y="141" class="lg">-6</text>
<g clip-path="url(#clipB)">
<rect x="359.2" y="24.2" width="323.00000000000006" height="77.0" fill="url(#gTop)"/>
<rect x="359.2" y="101.2" width="323.00000000000006" height="73.89999999999999" fill="url(#gBot)"/>
<rect x="359.2" y="101.2" width="323.00000000000006" height="13" fill="url(#gBand)"/>
<line x1="359.2" y1="88.9" x2="682.2" y2="88.9" stroke="#a8c4e0" stroke-width="0.5" opacity="0.6"/>
<ellipse cx="520.7" cy="101.2" rx="161.6" ry="15.7" fill="#fdeeec" stroke="#3a3a3a" stroke-width="0.75"/>
<text x="528.1" y="104.2" text-anchor="middle" class="et">Extravillous trophoblasts</text>
<path transform="translate(402,53)" d="M-4.90,-19.00 C-1.37,-19.65 2.53,-18.50 5.70,-16.60 C8.87,-14.70 11.68,-10.95 14.10,-7.60 C16.52,-4.25 19.92,-0.13 20.20,3.50 C20.48,7.13 18.68,11.62 15.80,14.20 C12.92,16.78 7.20,18.82 2.90,19.00 C-1.40,19.18 -6.47,17.32 -10.00,15.30 C-13.53,13.28 -16.60,10.07 -18.30,6.90 C-20.00,3.73 -20.67,-0.43 -20.20,-3.70 C-19.73,-6.97 -18.05,-10.15 -15.50,-12.70 C-12.95,-15.25 -8.43,-18.35 -4.90,-19.00Z" fill="url(#gNK1)" stroke="#a85a44" stroke-width="0.8"/>
<path transform="translate(391.7,53.2)" d="M-1.50,-6.40 C-0.57,-6.47 0.93,-5.63 1.40,-4.80 C1.87,-3.97 0.83,-2.53 1.30,-1.40 C1.77,-0.27 3.78,0.83 4.20,2.00 C4.62,3.17 4.43,4.83 3.80,5.60 C3.17,6.37 1.60,6.80 0.40,6.60 C-0.80,6.40 -2.53,5.47 -3.40,4.40 C-4.27,3.33 -4.67,1.67 -4.80,0.20 C-4.93,-1.27 -4.75,-3.30 -4.20,-4.40 C-3.65,-5.50 -2.43,-6.33 -1.50,-6.40Z" fill="url(#gNuc1)" stroke="#b84c18" stroke-width="0.75"/>
<circle cx="402.70" cy="43.10" r="1.2" fill="#c87454" stroke="#a05038" stroke-width="0.3"/>
<circle cx="399.00" cy="48.70" r="1.2" fill="#c87454" stroke="#a05038" stroke-width="0.3"/>
<circle cx="405.50" cy="48.90" r="1.2" fill="#c87454" stroke="#a05038" stroke-width="0.3"/>
<circle cx="401.90" cy="53.40" r="1.2" fill="#c87454" stroke="#a05038" stroke-width="0.3"/>
<circle cx="407.10" cy="57.10" r="1.2" fill="#c87454" stroke="#a05038" stroke-width="0.3"/>
<text x="394.8" y="67.0" class="cl">dNK1</text>
<path transform="translate(461,46.5)" d="M-4.90,-19.00 C-1.37,-19.65 2.53,-18.50 5.70,-16.60 C8.87,-14.70 11.68,-10.95 14.10,-7.60 C16.52,-4.25 19.92,-0.13 20.20,3.50 C20.48,7.13 18.68,11.62 15.80,14.20 C12.92,16.78 7.20,18.82 2.90,19.00 C-1.40,19.18 -6.47,17.32 -10.00,15.30 C-13.53,13.28 -16.60,10.07 -18.30,6.90 C-20.00,3.73 -20.67,-0.43 -20.20,-3.70 C-19.73,-6.97 -18.05,-10.15 -15.50,-12.70 C-12.95,-15.25 -8.43,-18.35 -4.90,-19.00Z" fill="url(#gNK2)" stroke="#4e9a3a" stroke-width="0.8"/>
<path transform="translate(450.7,46.7)" d="M-1.50,-6.40 C-0.57,-6.47 0.93,-5.63 1.40,-4.80 C1.87,-3.97 0.83,-2.53 1.30,-1.40 C1.77,-0.27 3.78,0.83 4.20,2.00 C4.62,3.17 4.43,4.83 3.80,5.60 C3.17,6.37 1.60,6.80 0.40,6.60 C-0.80,6.40 -2.53,5.47 -3.40,4.40 C-4.27,3.33 -4.67,1.67 -4.80,0.20 C-4.93,-1.27 -4.75,-3.30 -4.20,-4.40 C-3.65,-5.50 -2.43,-6.33 -1.50,-6.40Z" fill="#b4e27a" stroke="#2e6e2a" stroke-width="0.75"/>
<circle cx="461.80" cy="34.30" r="1.15" fill="#5aa248" stroke="#2a7a30" stroke-width="0.55"/>
<circle cx="464.80" cy="37.50" r="1.15" fill="#5aa248" stroke="#2a7a30" stroke-width="0.55"/>
<circle cx="463.80" cy="41.30" r="1.15" fill="#5aa248" stroke="#2a7a30" stroke-width="0.55"/>
<circle cx="466.80" cy="41.90" r="1.15" fill="#5aa248" stroke="#2a7a30" stroke-width="0.55"/>
<circle cx="470.80" cy="41.90" r="1.15" fill="#5aa248" stroke="#2a7a30" stroke-width="0.55"/>
<circle cx="469.20" cy="45.50" r="1.15" fill="#5aa248" stroke="#2a7a30" stroke-width="0.55"/>
<circle cx="464.80" cy="47.40" r="1.15" fill="#5aa248" stroke="#2a7a30" stroke-width="0.55"/>
<circle cx="466.40" cy="51.80" r="1.15" fill="#5aa248" stroke="#2a7a30" stroke-width="0.55"/>
<circle cx="474.10" cy="55.40" r="1.15" fill="#5aa248" stroke="#2a7a30" stroke-width="0.55"/>
<text x="449.3" y="60.1" class="cl">dNK2</text>
<path transform="translate(518,48.3)" d="M-4.90,-19.00 C-1.37,-19.65 2.53,-18.50 5.70,-16.60 C8.87,-14.70 11.68,-10.95 14.10,-7.60 C16.52,-4.25 19.92,-0.13 20.20,3.50 C20.48,7.13 18.68,11.62 15.80,14.20 C12.92,16.78 7.20,18.82 2.90,19.00 C-1.40,19.18 -6.47,17.32 -10.00,15.30 C-13.53,13.28 -16.60,10.07 -18.30,6.90 C-20.00,3.73 -20.67,-0.43 -20.20,-3.70 C-19.73,-6.97 -18.05,-10.15 -15.50,-12.70 C-12.95,-15.25 -8.43,-18.35 -4.90,-19.00Z" fill="url(#gNK3)" stroke="#2a5a2a" stroke-width="0.8"/>
<path transform="translate(507.7,48.5)" d="M-1.50,-6.40 C-0.57,-6.47 0.93,-5.63 1.40,-4.80 C1.87,-3.97 0.83,-2.53 1.30,-1.40 C1.77,-0.27 3.78,0.83 4.20,2.00 C4.62,3.17 4.43,4.83 3.80,5.60 C3.17,6.37 1.60,6.80 0.40,6.60 C-0.80,6.40 -2.53,5.47 -3.40,4.40 C-4.27,3.33 -4.67,1.67 -4.80,0.20 C-4.93,-1.27 -4.75,-3.30 -4.20,-4.40 C-3.65,-5.50 -2.43,-6.33 -1.50,-6.40Z" fill="url(#gNuc3)" stroke="#1a4a30" stroke-width="0.75"/>
<circle cx="516.20" cy="36.80" r="1.15" fill="#4e8e48" stroke="#1e5020" stroke-width="0.55"/>
<circle cx="526.70" cy="41.30" r="1.15" fill="#4e8e48" stroke="#1e5020" stroke-width="0.55"/>
<circle cx="518.60" cy="45.70" r="1.15" fill="#4e8e48" stroke="#1e5020" stroke-width="0.55"/>
<circle cx="522.30" cy="45.40" r="1.15" fill="#4e8e48" stroke="#1e5020" stroke-width="0.55"/>
<circle cx="519.20" cy="51.80" r="1.15" fill="#4e8e48" stroke="#1e5020" stroke-width="0.55"/>
<circle cx="524.40" cy="53.50" r="1.15" fill="#4e8e48" stroke="#1e5020" stroke-width="0.55"/>
<circle cx="524.40" cy="60.30" r="1.15" fill="#4e8e48" stroke="#1e5020" stroke-width="0.55"/>
<text x="503.5" y="60.7" class="cl">dNK3</text>
<path transform="translate(577.5,48.6)" d="M2.29,22.71 C1.02,22.74 -2.73,18.94 -4.26,18.75 C-5.79,18.55 -8.73,21.58 -9.77,21.16 C-10.81,20.73 -11.06,16.36 -12.46,15.41 C-13.86,14.46 -19.91,14.73 -20.80,13.67 C-21.68,12.61 -18.83,8.54 -19.48,7.04 C-20.12,5.54 -25.79,3.32 -25.90,1.86 C-26.00,0.40 -20.72,-2.97 -20.28,-4.49 C-19.84,-6.02 -22.85,-9.26 -22.41,-10.17 C-21.97,-11.08 -17.96,-10.48 -16.81,-11.66 C-15.67,-12.85 -14.61,-18.69 -13.36,-19.50 C-12.10,-20.31 -8.42,-17.59 -6.91,-18.04 C-5.39,-18.49 -2.59,-22.97 -1.40,-23.08 C-0.22,-23.19 0.83,-19.20 2.44,-18.91 C4.06,-18.61 9.96,-21.26 11.32,-20.75 C12.68,-20.23 12.00,-15.98 13.18,-14.82 C14.37,-13.66 19.76,-12.65 20.65,-11.60 C21.54,-10.54 19.59,-7.89 20.20,-6.51 C20.81,-5.12 25.44,-2.05 25.48,-0.70 C25.53,0.66 20.79,2.83 20.53,4.16 C20.27,5.50 24.11,8.75 23.44,9.87 C22.76,10.99 16.52,11.82 15.20,13.02 C13.88,14.22 14.20,18.65 13.01,19.34 C11.82,20.03 7.15,18.03 5.79,18.46 C4.44,18.89 3.57,22.67 2.29,22.71Z" fill="url(#gMac2)" stroke="#2c1c68" stroke-width="0.8"/>
<ellipse cx="574.3" cy="42.2" rx="9.4" ry="4.4" transform="rotate(-12 574.3 42.2)" fill="url(#gMN2)" stroke="#101018" stroke-width="0.5"/>
<circle cx="563.90" cy="40.90" r="0.7" fill="#111"/>
<circle cx="576.80" cy="31.50" r="0.7" fill="#111"/>
<circle cx="590.70" cy="40.90" r="0.7" fill="#111"/>
<circle cx="579.80" cy="46.90" r="0.7" fill="#111"/>
<ellipse cx="567.80" cy="52.80" rx="0.9" ry="1.2" fill="none" stroke="#1a1040" stroke-width="0.6"/>
<ellipse cx="576.40" cy="58.20" rx="0.9" ry="1.2" fill="none" stroke="#1a1040" stroke-width="0.6"/>
<ellipse cx="587.70" cy="58.80" rx="0.9" ry="1.2" fill="none" stroke="#1a1040" stroke-width="0.6"/>
<text x="578.8" y="55.1" class="cl">mac2</text>
<path transform="translate(637.5,46.4)" d="M-17.65,-16.23 C-16.45,-17.27 -10.97,-15.80 -9.45,-16.52 C-7.93,-17.24 -6.64,-21.65 -5.68,-21.89 C-4.72,-22.13 -3.52,-18.53 -1.86,-18.42 C-0.20,-18.31 5.85,-21.34 7.45,-21.03 C9.05,-20.73 9.56,-16.55 10.79,-16.04 C12.02,-15.52 16.23,-17.81 17.13,-16.98 C18.04,-16.15 17.10,-10.91 17.94,-9.49 C18.78,-8.07 23.35,-6.98 23.78,-5.78 C24.21,-4.58 21.33,-1.33 21.32,-0.03 C21.31,1.28 23.99,3.45 23.71,4.54 C23.43,5.64 19.81,7.13 19.08,8.63 C18.34,10.13 18.86,15.52 17.93,16.36 C16.99,17.21 12.92,14.64 11.67,15.28 C10.41,15.92 9.51,21.00 8.02,21.41 C6.53,21.81 1.48,18.50 -0.12,18.46 C-1.72,18.43 -3.15,21.46 -4.59,21.13 C-6.04,20.80 -10.02,16.48 -11.54,15.83 C-13.05,15.19 -15.60,16.96 -16.56,16.01 C-17.52,15.06 -18.10,9.50 -19.12,8.32 C-20.14,7.14 -24.38,7.90 -24.61,6.70 C-24.84,5.50 -20.96,0.48 -20.92,-1.12 C-20.87,-2.71 -24.52,-4.99 -24.27,-5.91 C-24.02,-6.82 -19.76,-7.00 -18.92,-8.31 C-18.08,-9.62 -18.85,-15.19 -17.65,-16.23Z" fill="url(#gMac1)" stroke="#6a2a7a" stroke-width="0.8"/>
<ellipse cx="633.8" cy="40.0" rx="9" ry="3.8" transform="rotate(-10 633.8 40.0)" fill="#cc90d8" stroke="#a020a8" stroke-width="0.8"/>
<circle cx="626.50" cy="43.40" r="0.9" fill="#7a3a9a" opacity="0.7"/>
<circle cx="641.50" cy="31.40" r="0.9" fill="#7a3a9a" opacity="0.7"/>
<circle cx="649.50" cy="38.40" r="0.9" fill="#7a3a9a" opacity="0.7"/>
<circle cx="632.50" cy="56.40" r="0.9" fill="#7a3a9a" opacity="0.7"/>
<circle cx="646.50" cy="54.40" r="0.9" fill="#7a3a9a" opacity="0.7"/>
<ellipse cx="629.50" cy="50.40" rx="1" ry="1.3" fill="none" stroke="#6a2a8a" stroke-width="0.6"/>
<ellipse cx="635.50" cy="57.40" rx="1" ry="1.3" fill="none" stroke="#6a2a8a" stroke-width="0.6"/>
<text x="637.8" y="49.8" class="cl">mac1</text>
<path transform="translate(407.2,151.2)" d="M-4.90,-19.00 C-1.37,-19.65 2.53,-18.50 5.70,-16.60 C8.87,-14.70 11.68,-10.95 14.10,-7.60 C16.52,-4.25 19.92,-0.13 20.20,3.50 C20.48,7.13 18.68,11.62 15.80,14.20 C12.92,16.78 7.20,18.82 2.90,19.00 C-1.40,19.18 -6.47,17.32 -10.00,15.30 C-13.53,13.28 -16.60,10.07 -18.30,6.90 C-20.00,3.73 -20.67,-0.43 -20.20,-3.70 C-19.73,-6.97 -18.05,-10.15 -15.50,-12.70 C-12.95,-15.25 -8.43,-18.35 -4.90,-19.00Z" fill="url(#gNK1)" stroke="#a85a44" stroke-width="0.8"/>
<path transform="translate(396.9,151.39999999999998)" d="M-1.50,-6.40 C-0.57,-6.47 0.93,-5.63 1.40,-4.80 C1.87,-3.97 0.83,-2.53 1.30,-1.40 C1.77,-0.27 3.78,0.83 4.20,2.00 C4.62,3.17 4.43,4.83 3.80,5.60 C3.17,6.37 1.60,6.80 0.40,6.60 C-0.80,6.40 -2.53,5.47 -3.40,4.40 C-4.27,3.33 -4.67,1.67 -4.80,0.20 C-4.93,-1.27 -4.75,-3.30 -4.20,-4.40 C-3.65,-5.50 -2.43,-6.33 -1.50,-6.40Z" fill="url(#gNuc1)" stroke="#b84c18" stroke-width="0.75"/>
<circle cx="407.90" cy="141.30" r="1.2" fill="#c87454" stroke="#a05038" stroke-width="0.3"/>
<circle cx="404.20" cy="146.90" r="1.2" fill="#c87454" stroke="#a05038" stroke-width="0.3"/>
<circle cx="410.70" cy="147.10" r="1.2" fill="#c87454" stroke="#a05038" stroke-width="0.3"/>
<circle cx="407.10" cy="151.60" r="1.2" fill="#c87454" stroke="#a05038" stroke-width="0.3"/>
<circle cx="412.30" cy="155.30" r="1.2" fill="#c87454" stroke="#a05038" stroke-width="0.3"/>
<text x="400.7" y="164.5" class="cl">dNK1</text>
<path transform="translate(464.4,154.7)" d="M-4.90,-19.00 C-1.37,-19.65 2.53,-18.50 5.70,-16.60 C8.87,-14.70 11.68,-10.95 14.10,-7.60 C16.52,-4.25 19.92,-0.13 20.20,3.50 C20.48,7.13 18.68,11.62 15.80,14.20 C12.92,16.78 7.20,18.82 2.90,19.00 C-1.40,19.18 -6.47,17.32 -10.00,15.30 C-13.53,13.28 -16.60,10.07 -18.30,6.90 C-20.00,3.73 -20.67,-0.43 -20.20,-3.70 C-19.73,-6.97 -18.05,-10.15 -15.50,-12.70 C-12.95,-15.25 -8.43,-18.35 -4.90,-19.00Z" fill="url(#gNK2)" stroke="#4e9a3a" stroke-width="0.8"/>
<path transform="translate(454.09999999999997,154.89999999999998)" d="M-1.50,-6.40 C-0.57,-6.47 0.93,-5.63 1.40,-4.80 C1.87,-3.97 0.83,-2.53 1.30,-1.40 C1.77,-0.27 3.78,0.83 4.20,2.00 C4.62,3.17 4.43,4.83 3.80,5.60 C3.17,6.37 1.60,6.80 0.40,6.60 C-0.80,6.40 -2.53,5.47 -3.40,4.40 C-4.27,3.33 -4.67,1.67 -4.80,0.20 C-4.93,-1.27 -4.75,-3.30 -4.20,-4.40 C-3.65,-5.50 -2.43,-6.33 -1.50,-6.40Z" fill="#b4e27a" stroke="#2e6e2a" stroke-width="0.75"/>
<circle cx="465.20" cy="142.50" r="1.15" fill="#5aa248" stroke="#2a7a30" stroke-width="0.55"/>
<circle cx="468.20" cy="145.70" r="1.15" fill="#5aa248" stroke="#2a7a30" stroke-width="0.55"/>
<circle cx="467.20" cy="149.50" r="1.15" fill="#5aa248" stroke="#2a7a30" stroke-width="0.55"/>
<circle cx="470.20" cy="150.10" r="1.15" fill="#5aa248" stroke="#2a7a30" stroke-width="0.55"/>
<circle cx="474.20" cy="150.10" r="1.15" fill="#5aa248" stroke="#2a7a30" stroke-width="0.55"/>
<circle cx="472.60" cy="153.70" r="1.15" fill="#5aa248" stroke="#2a7a30" stroke-width="0.55"/>
<circle cx="468.20" cy="155.60" r="1.15" fill="#5aa248" stroke="#2a7a30" stroke-width="0.55"/>
<circle cx="469.80" cy="160.00" r="1.15" fill="#5aa248" stroke="#2a7a30" stroke-width="0.55"/>
<circle cx="477.50" cy="163.60" r="1.15" fill="#5aa248" stroke="#2a7a30" stroke-width="0.55"/>
<text x="453.5" y="166.9" class="cl">dNK2</text>
<path transform="translate(521.8,153.2)" d="M-4.90,-19.00 C-1.37,-19.65 2.53,-18.50 5.70,-16.60 C8.87,-14.70 11.68,-10.95 14.10,-7.60 C16.52,-4.25 19.92,-0.13 20.20,3.50 C20.48,7.13 18.68,11.62 15.80,14.20 C12.92,16.78 7.20,18.82 2.90,19.00 C-1.40,19.18 -6.47,17.32 -10.00,15.30 C-13.53,13.28 -16.60,10.07 -18.30,6.90 C-20.00,3.73 -20.67,-0.43 -20.20,-3.70 C-19.73,-6.97 -18.05,-10.15 -15.50,-12.70 C-12.95,-15.25 -8.43,-18.35 -4.90,-19.00Z" fill="url(#gNK3)" stroke="#2a5a2a" stroke-width="0.8"/>
<path transform="translate(511.49999999999994,153.39999999999998)" d="M-1.50,-6.40 C-0.57,-6.47 0.93,-5.63 1.40,-4.80 C1.87,-3.97 0.83,-2.53 1.30,-1.40 C1.77,-0.27 3.78,0.83 4.20,2.00 C4.62,3.17 4.43,4.83 3.80,5.60 C3.17,6.37 1.60,6.80 0.40,6.60 C-0.80,6.40 -2.53,5.47 -3.40,4.40 C-4.27,3.33 -4.67,1.67 -4.80,0.20 C-4.93,-1.27 -4.75,-3.30 -4.20,-4.40 C-3.65,-5.50 -2.43,-6.33 -1.50,-6.40Z" fill="url(#gNuc3)" stroke="#1a4a30" stroke-width="0.75"/>
<circle cx="520.00" cy="141.70" r="1.15" fill="#4e8e48" stroke="#1e5020" stroke-width="0.55"/>
<circle cx="530.50" cy="146.20" r="1.15" fill="#4e8e48" stroke="#1e5020" stroke-width="0.55"/>
<circle cx="522.40" cy="150.60" r="1.15" fill="#4e8e48" stroke="#1e5020" stroke-width="0.55"/>
<circle cx="526.10" cy="150.30" r="1.15" fill="#4e8e48" stroke="#1e5020" stroke-width="0.55"/>
<circle cx="523.00" cy="156.70" r="1.15" fill="#4e8e48" stroke="#1e5020" stroke-width="0.55"/>
<circle cx="528.20" cy="158.40" r="1.15" fill="#4e8e48" stroke="#1e5020" stroke-width="0.55"/>
<circle cx="528.20" cy="165.20" r="1.15" fill="#4e8e48" stroke="#1e5020" stroke-width="0.55"/>
<text x="507.9" y="162.0" class="cl">dNK3</text>
<path transform="translate(577,148.7)" d="M-11.51,19.66 C-12.55,19.20 -12.02,16.18 -13.23,15.32 C-14.44,14.45 -20.22,13.87 -21.06,12.86 C-21.89,11.84 -19.26,8.61 -19.80,7.32 C-20.33,6.02 -25.12,4.00 -25.28,2.61 C-25.44,1.23 -21.39,-2.19 -21.05,-3.65 C-20.71,-5.10 -23.18,-7.74 -22.59,-8.89 C-22.00,-10.03 -17.33,-11.43 -16.40,-12.69 C-15.48,-13.95 -16.41,-18.17 -15.29,-18.81 C-14.18,-19.44 -9.52,-17.21 -7.60,-17.73 C-5.68,-18.26 -1.69,-22.82 -0.15,-22.93 C1.39,-23.05 2.94,-19.08 4.55,-18.66 C6.16,-18.23 11.49,-20.00 12.57,-19.57 C13.65,-19.14 11.95,-16.05 13.07,-15.26 C14.19,-14.47 20.55,-14.36 21.39,-13.32 C22.23,-12.27 19.31,-8.47 19.73,-7.01 C20.15,-5.55 24.52,-3.33 24.68,-1.83 C24.84,-0.33 21.30,3.32 20.98,4.84 C20.66,6.36 22.79,9.09 22.14,10.14 C21.49,11.19 16.92,12.04 15.86,13.15 C14.80,14.25 14.74,18.29 13.77,18.88 C12.80,19.46 9.66,17.39 8.21,17.77 C6.76,18.16 4.01,21.80 2.34,21.94 C0.67,22.08 -3.21,19.17 -4.97,18.88 C-6.72,18.59 -10.46,20.11 -11.51,19.66Z" fill="url(#gMac2)" stroke="#2c1c68" stroke-width="0.8"/>
<ellipse cx="573.3" cy="142.2" rx="9.4" ry="4.4" transform="rotate(-12 573.3 142.2)" fill="url(#gMN2)" stroke="#101018" stroke-width="0.5"/>
<circle cx="563.40" cy="141.00" r="0.7" fill="#111"/>
<circle cx="576.30" cy="131.60" r="0.7" fill="#111"/>
<circle cx="590.20" cy="141.00" r="0.7" fill="#111"/>
<circle cx="579.30" cy="147.00" r="0.7" fill="#111"/>
<ellipse cx="567.30" cy="152.90" rx="0.9" ry="1.2" fill="none" stroke="#1a1040" stroke-width="0.6"/>
<ellipse cx="575.90" cy="158.30" rx="0.9" ry="1.2" fill="none" stroke="#1a1040" stroke-width="0.6"/>
<ellipse cx="587.20" cy="158.90" rx="0.9" ry="1.2" fill="none" stroke="#1a1040" stroke-width="0.6"/>
<text x="579.8" y="155.0" class="cl">mac2</text>
<path transform="translate(640.4,147.3)" d="M-24.23,5.45 C-24.53,4.46 -20.93,2.14 -20.93,0.80 C-20.93,-0.54 -24.47,-4.05 -24.23,-5.14 C-23.98,-6.24 -19.81,-6.57 -19.02,-7.86 C-18.23,-9.14 -19.10,-14.23 -18.00,-15.28 C-16.90,-16.34 -11.63,-15.56 -10.32,-16.20 C-9.01,-16.85 -8.71,-20.03 -7.68,-20.35 C-6.65,-20.67 -3.94,-18.53 -2.18,-18.72 C-0.42,-18.91 4.90,-22.10 6.23,-21.87 C7.57,-21.64 6.79,-17.67 8.35,-16.91 C9.91,-16.14 17.33,-16.79 18.52,-15.84 C19.72,-14.89 17.15,-10.45 17.80,-9.39 C18.45,-8.32 23.28,-8.35 23.66,-7.43 C24.04,-6.51 20.67,-3.55 20.78,-2.13 C20.90,-0.71 24.81,2.51 24.58,3.78 C24.35,5.04 19.73,6.59 19.00,7.87 C18.28,9.14 19.80,12.83 18.83,13.83 C17.86,14.84 12.93,14.87 11.35,15.82 C9.76,16.76 7.68,20.91 6.33,21.26 C4.98,21.62 2.23,18.57 0.72,18.63 C-0.79,18.69 -4.20,22.05 -5.59,21.74 C-6.98,21.43 -8.88,16.82 -10.25,16.16 C-11.61,15.50 -15.33,17.49 -16.39,16.53 C-17.46,15.58 -17.63,10.03 -18.62,8.63 C-19.62,7.22 -23.94,6.44 -24.23,5.45Z" fill="url(#gMac1)" stroke="#6a2a7a" stroke-width="0.8"/>
<ellipse cx="634.8" cy="140.8" rx="9" ry="3.8" transform="rotate(-10 634.8 140.8)" fill="#cc90d8" stroke="#a020a8" stroke-width="0.8"/>
<circle cx="629.40" cy="144.30" r="0.9" fill="#7a3a9a" opacity="0.7"/>
<circle cx="644.40" cy="132.30" r="0.9" fill="#7a3a9a" opacity="0.7"/>
<circle cx="652.40" cy="139.30" r="0.9" fill="#7a3a9a" opacity="0.7"/>
<circle cx="635.40" cy="157.30" r="0.9" fill="#7a3a9a" opacity="0.7"/>
<circle cx="649.40" cy="155.30" r="0.9" fill="#7a3a9a" opacity="0.7"/>
<ellipse cx="632.40" cy="151.30" rx="1" ry="1.3" fill="none" stroke="#6a2a8a" stroke-width="0.6"/>
<ellipse cx="638.40" cy="158.30" rx="1" ry="1.3" fill="none" stroke="#6a2a8a" stroke-width="0.6"/>
<text x="637.8" y="150.1" class="cl">mac1</text>
<line x1="390.8" y1="67.5" x2="390.8" y2="82.2" stroke="#6e5e12" stroke-width="0.7"/>
<path d="M389.2,70.6 L390.8,69.69999999999999 L392.40000000000003,70.6 L390.8,71.5Z" fill="#d8ac22" stroke="#6e5e12" stroke-width="0.4"/>
<ellipse cx="390.8" cy="76.1" rx="1.15" ry="4.2" fill="#d8ac22" stroke="#6e5e12" stroke-width="0.5"/>
<path d="M389.2,81.2 L390.8,80.3 L392.40000000000003,81.2 L390.8,82.10000000000001Z" fill="#d8ac22" stroke="#6e5e12" stroke-width="0.4"/>
<line x1="387.5" y1="74.5" x2="387.5" y2="94.5" stroke="#6e5e12" stroke-width="0.7"/>
<ellipse cx="387.5" cy="79.2" rx="1.4" ry="4.0" fill="#d8ac22" stroke="#6e5e12" stroke-width="0.5"/>
<path d="M385.9,84.8 L387.5,83.89999999999999 L389.1,84.8 L387.5,85.7Z" fill="#d8ac22" stroke="#6e5e12" stroke-width="0.4"/>
<ellipse cx="387.5" cy="88.4" rx="1.4" ry="2.3" fill="#d8ac22" stroke="#6e5e12" stroke-width="0.5"/>
<text x="388.4" y="72.2" class="rl" text-anchor="end">JAG1</text>
<text x="373.1" y="86.4" class="rl">NOTCH</text>
<line x1="456.4" y1="62.5" x2="456.4" y2="82" stroke="#6e5e12" stroke-width="0.7"/>
<path d="M454.79999999999995,67.7 L456.4,66.8 L458.0,67.7 L456.4,68.60000000000001Z" fill="#d8ac22" stroke="#6e5e12" stroke-width="0.4"/>
<ellipse cx="456.4" cy="73" rx="1.1" ry="3.4" fill="#d8ac22" stroke="#6e5e12" stroke-width="0.5"/>
<path d="M454.79999999999995,78.8 L456.4,77.89999999999999 L458.0,78.8 L456.4,79.7Z" fill="#d8ac22" stroke="#6e5e12" stroke-width="0.4"/>
<line x1="451.6" y1="71" x2="451.6" y2="90.5" stroke="#6e5e12" stroke-width="0.7"/>
<ellipse cx="451.6" cy="75.5" rx="1.5" ry="4.0" fill="#d8ac22" stroke="#6e5e12" stroke-width="0.5"/>
<path d="M450.0,80.4 L451.6,79.5 L453.20000000000005,80.4 L451.6,81.30000000000001Z" fill="#d8ac22" stroke="#6e5e12" stroke-width="0.4"/>
<ellipse cx="451.6" cy="85.0" rx="1.5" ry="2.5" fill="#d8ac22" stroke="#6e5e12" stroke-width="0.5"/>
<text x="459.3" y="74.5" class="rl">JAG1</text>
<text x="448.9" y="83.4" class="rl" text-anchor="end">NOTCH</text>
<circle cx="564.3" cy="66.6" r="1.05" fill="#4a8ee0" stroke="#2a6ab0" stroke-width="0.3"/><circle cx="566.8" cy="67.8" r="1.05" fill="#4a8ee0" stroke="#2a6ab0" stroke-width="0.3"/><circle cx="564.9" cy="69.6" r="1.05" fill="#4a8ee0" stroke="#2a6ab0" stroke-width="0.3"/>
<text x="559.7" y="69.6" class="rl" text-anchor="end">CCL5</text>
<path d="M563.8,70.8 Q561.5,72.5 560.8,75.6" fill="none" stroke="#333" stroke-width="0.55" stroke-dasharray="1.1 0.9" marker-end="url(#ah)"/>
<path d="M567.4,70.4 Q571.5,71.8 573.0,75.6" fill="none" stroke="#333" stroke-width="0.55" stroke-dasharray="1.1 0.9" marker-end="url(#ah)"/>
<path d="M557.9,77.2 L563.1,77.2 Q562.6,84.30000000000001 563.1,91.4 L557.9,91.4 Q558.4,84.30000000000001 557.9,77.2Z" fill="#94dce2"/>
<path d="M570.1,77.2 L575.2,77.2 Q574.7,84.30000000000001 575.2,91.4 L570.1,91.4 Q570.6,84.30000000000001 570.1,77.2Z" fill="#9ccc22"/>
<text x="556.4" y="83.6" class="rl" text-anchor="end">ACKR2</text>
<text x="577.1" y="83.6" class="rl">CCR1</text>
<line x1="619.8" y1="60.2" x2="619.8" y2="75.5" stroke="#7a6c1c" stroke-width="0.9"/>
<line x1="624.4" y1="60.2" x2="624.4" y2="75.5" stroke="#7a6c1c" stroke-width="0.9"/>
<rect x="618.6" y="65.6" width="7.0" height="2.8" rx="1.0" fill="#8a7c26" stroke="none" stroke-width="0.5"/>
<ellipse cx="620.5" cy="67.0" rx="1.35" ry="1.0" fill="#3a6cb0" stroke="#5a5018" stroke-width="0.3"/>
<ellipse cx="623.7" cy="67.0" rx="1.35" ry="1.0" fill="#3a6cb0" stroke="#5a5018" stroke-width="0.3"/>
<rect x="618.6" y="70.19999999999999" width="7.0" height="2.8" rx="1.0" fill="#8a7c26" stroke="none" stroke-width="0.5"/>
<ellipse cx="620.5" cy="71.6" rx="1.35" ry="1.0" fill="#3a6cb0" stroke="#5a5018" stroke-width="0.3"/>
<ellipse cx="623.7" cy="71.6" rx="1.35" ry="1.0" fill="#3a6cb0" stroke="#5a5018" stroke-width="0.3"/>
<rect x="617.9" y="78.0" width="6.2" height="8.0" rx="1.2" fill="#7a6c1c" stroke="none" stroke-width="0.5"/>
<line x1="621" y1="86" x2="621" y2="91.5" stroke="#7a6c1c" stroke-width="0.9"/>
<circle cx="619.6" cy="80.0" r="1.0" fill="#3a6cb0" stroke="none" stroke-width="0.3"/><circle cx="622.4" cy="80.0" r="1.0" fill="#3a6cb0" stroke="none" stroke-width="0.3"/><circle cx="619.6" cy="84.0" r="1.0" fill="#3a6cb0" stroke="none" stroke-width="0.3"/><circle cx="622.4" cy="84.0" r="1.0" fill="#3a6cb0" stroke="none" stroke-width="0.3"/>
<text x="607.2" y="65.4" class="rl">AXL</text>
<text x="600.3" y="85.2" class="rl">GAS6</text>
<circle cx="634.4" cy="69.0" r="1.25" fill="#2a2a8c" stroke="none" stroke-width="0.3"/><circle cx="637.0" cy="68.6" r="1.25" fill="#2a2a8c" stroke="none" stroke-width="0.3"/><circle cx="635.8" cy="71.2" r="1.25" fill="#2a2a8c" stroke="none" stroke-width="0.3"/>
<text x="639.8" y="73.6" class="rl">PTN</text>
<path d="M633.6,72.4 Q630.5,75.0 630.2,80.2" fill="none" stroke="#333" stroke-width="0.55" stroke-dasharray="1.1 0.9" marker-end="url(#ah)"/>
<path d="M628.1,82.6 L630.6,85.66 L633.1,82.6 L633.1,89.4 L628.1,89.4Z" fill="#3a78d4" stroke="#2a58a8" stroke-width="0.3"/><rect x="630.1" y="87.06" width="1" height="1.6" fill="#a8c8f0"/>
<text x="634.0" y="85.3" class="rl">PLXNB2</text>
<path d="M652.0,62.4 Q653.8,64.2 655.6,62.4 Q656.4,64.6 653.8,66.4 Q651.2,64.6 652.0,62.4Z" fill="#f88c2c"/>
<text x="658.8" y="64.2" class="rl">CCL12</text>
<path d="M656.0,66.0 Q660.5,69.5 659.4,78.6" fill="none" stroke="#333" stroke-width="0.55" stroke-dasharray="1.1 0.9" marker-end="url(#ah)"/>
<line x1="659.2" y1="80" x2="659.2" y2="97" stroke="#e07018" stroke-width="0.8"/>
<rect x="657.4" y="84.3" width="3.6" height="3.0" rx="0.5" fill="#f89030" stroke="#c05010" stroke-width="0.3"/>
<path d="M657.8000000000001,82.2 L659.2,81.4 L660.6,82.2 L659.2,83.0Z" fill="#f89030" stroke="#c05010" stroke-width="0.4"/>
<path d="M657.8000000000001,89.2 L659.2,88.4 L660.6,89.2 L659.2,90.0Z" fill="#f89030" stroke="#c05010" stroke-width="0.4"/>
<text x="664.7" y="93.2" class="rl">DPP4</text>
<path d="M393.8,110.5 L397.9,110.5 Q397.4,117.95 397.9,125.4 L393.8,125.4 Q394.3,117.95 393.8,110.5Z" fill="#94dce2"/>
<text x="390.8" y="117.6" class="rl" text-anchor="end">ACKR2</text>
<path d="M408.5,113.2 L412.3,113.2 L413.3,122.4 L407.4,122.4Z" fill="url(#gSlc)" stroke="#c03ca0" stroke-width="0.9" stroke-linejoin="round"/>
<text x="415.0" y="121.8" class="rl">SLC7A1</text>
<circle cx="421.0" cy="137.6" r="1.15" fill="#88d8e4" stroke="none" stroke-width="0.3"/><circle cx="423.0" cy="136.4" r="1.15" fill="#88d8e4" stroke="none" stroke-width="0.3"/><circle cx="424.8" cy="135.4" r="1.15" fill="#88d8e4" stroke="none" stroke-width="0.3"/>
<text x="423.7" y="144.9" class="rl">CCL4</text>
<path d="M420.5,136.0 Q408,132.5 399.8,123.8" fill="none" stroke="#333" stroke-width="0.55" stroke-dasharray="1.1 0.9" marker-end="url(#ah)"/>
<path d="M422.8,134.3 Q418.5,128.5 412.6,124.8" fill="none" stroke="#333" stroke-width="0.55" stroke-dasharray="1.1 0.9" marker-end="url(#ah)"/>
<path d="M460.9,115.2 L460.9,119.2 L463.7,121.05 L460.9,122.90 L463.7,124.75 L460.9,126.60 L463.7,128.45 L460.9,130.30 L460.9,131.3 L460.9,132.3" fill="none" stroke="#9050d0" stroke-width="1.0" stroke-linejoin="round"/>
<text x="464.8" y="123.6" class="rl">FCGR2</text>
<circle cx="457.2" cy="128.2" r="1.7" fill="none" stroke="#9050d0" stroke-width="0.95"/>
<line x1="457.2" y1="130.0" x2="457.2" y2="136.2" stroke="#9050d0" stroke-width="0.95"/>
<text x="454.7" y="129.9" class="rl" text-anchor="end">CD83</text>
<ellipse cx="507.4" cy="120.7" rx="1.5" ry="5.4" fill="#f8e020" stroke="#c85418" stroke-width="0.9"/>
<text x="505.7" y="123.7" class="rl" text-anchor="end">COPA</text>
<rect x="509.1" y="122.9" width="5.8" height="11.6" rx="1.6" fill="url(#gCD74)"/>
<text x="506.2" y="134.1" class="rl" text-anchor="end">CD74</text>
<circle cx="520.0" cy="115.4" r="1.25" fill="#f8a030" stroke="none" stroke-width="0.3"/><circle cx="522.6" cy="117.4" r="1.25" fill="#f8a030" stroke="none" stroke-width="0.3"/><circle cx="520.6" cy="119.8" r="1.25" fill="#f8a030" stroke="none" stroke-width="0.3"/>
<text x="517.8" y="125.9" class="rl">MIF</text>
<path d="M526.8,121.0 Q529.2,123.0 530.4,127.0" fill="none" stroke="#333" stroke-width="0.5" stroke-dasharray="1.1 0.9" marker-end="url(#ah)"/>
<rect x="528.4" y="128.2" width="5.8" height="11.6" rx="1.6" fill="url(#gCD74)"/>
<text x="534.8" y="138.1" class="rl">CD74</text>
<rect x="535.3" y="116.2" width="2.3" height="15.9" rx="0.5" fill="#f0a030" stroke="#a84a14" stroke-width="0.6"/>
<text x="539.3" y="124.0" class="rl">APP</text>
<path d="M584.0,115.3 L584.0,124.6 Q584.0,126.2 581.6,126.8 M586.4000000000001,115.3 L586.4000000000001,124.6 Q586.4000000000001,126.2 588.8000000000001,126.8 M584.0,124.6 Q585.2,126.6 586.4000000000001,124.6" fill="none" stroke="#f4a890" stroke-width="0.85" stroke-linecap="round"/>
<text x="582.2" y="122.7" class="rl" text-anchor="end">TGFβ-R2</text>
<path d="M595.6,114.3 L595.6,123.5 Q595.6,125.10000000000001 593.2,125.7 M598.6,114.3 L598.6,123.5 Q598.6,125.10000000000001 601.0,125.7 M595.6,123.5 Q597.1,125.5 598.6,123.5" fill="none" stroke="#f06828" stroke-width="0.9" stroke-linecap="round"/>
<text x="601.9" y="122.7" class="rl">EGFR</text>
<circle cx="602.7" cy="136.0" r="1.05" fill="#d8843a" stroke="#b06020" stroke-width="0.3"/><circle cx="604.1" cy="138.8" r="1.05" fill="#d8843a" stroke="#b06020" stroke-width="0.3"/><circle cx="601.6" cy="140.8" r="1.05" fill="#d8843a" stroke="#b06020" stroke-width="0.3"/>
<text x="599.3" y="149.0" class="rl">TGFβ</text>
<path d="M600.6,137.6 Q594,133.5 588.2,128.6" fill="none" stroke="#333" stroke-width="0.55" stroke-dasharray="1.1 0.9" marker-end="url(#ah)"/>
<path d="M602.6,134.6 Q600.5,130 597.4,127.2" fill="none" stroke="#333" stroke-width="0.55" stroke-dasharray="1.1 0.9" marker-end="url(#ah)"/>
<path d="M647.3,110.0 L647.3,118.7 Q647.3,120.30000000000001 644.9,120.9 M649.7,110.0 L649.7,118.7 Q649.7,120.30000000000001 652.1,120.9 M647.3,118.7 Q648.5,120.7 649.7,118.7" fill="none" stroke="#f4a890" stroke-width="0.85" stroke-linecap="round"/>
<text x="644.8" y="121.1" class="rl" text-anchor="end">TGFβ-R2</text>
<path d="M654.3,109.0 L654.3,117.7 Q654.3,119.30000000000001 651.9,119.9 M657.3,109.0 L657.3,117.7 Q657.3,119.30000000000001 659.6999999999999,119.9 M654.3,117.7 Q655.8,119.7 657.3,117.7" fill="none" stroke="#f06828" stroke-width="0.9" stroke-linecap="round"/>
<text x="659.8" y="116.1" class="rl">EGFR</text>
<circle cx="658.0" cy="133.6" r="1.05" fill="#d8843a" stroke="#b06020" stroke-width="0.3"/><circle cx="660.8" cy="134.4" r="1.05" fill="#d8843a" stroke="#b06020" stroke-width="0.3"/><circle cx="662.2" cy="136.4" r="1.05" fill="#d8843a" stroke="#b06020" stroke-width="0.3"/>
<text x="662.2" y="145.0" class="rl">TGFβ</text>
<path d="M657.2,132.4 Q653,127.5 649.6,122.6" fill="none" stroke="#333" stroke-width="0.55" stroke-dasharray="1.1 0.9" marker-end="url(#ah)"/>
<path d="M658.6,131.6 Q657.8,126.5 656.2,121.6" fill="none" stroke="#333" stroke-width="0.55" stroke-dasharray="1.1 0.9" marker-end="url(#ah)"/>
</g>
<text x="363.7" y="32.5" class="ct">Ctrl</text>
<text x="364" y="170.9" class="ct">RPL</text>
<text x="358.6" y="11.9" class="pl">b</text>
<g clip-path="url(#clipC)">
<rect x="358.2" y="212.0" width="324.2" height="77.30000000000001" fill="url(#gTop)"/>
<rect x="358.2" y="289.3" width="324.2" height="74.09999999999997" fill="url(#gBot)"/>
<rect x="358.2" y="289.3" width="324.2" height="13" fill="url(#gBand)"/>
<line x1="358.2" y1="277.0" x2="682.4" y2="277.0" stroke="#a8c4e0" stroke-width="0.5" opacity="0.6"/>
<ellipse cx="520.5" cy="289.3" rx="162.2" ry="16.7" fill="#fdeeec" stroke="#3a3a3a" stroke-width="0.75"/>
<text x="528.1" y="293.7" text-anchor="middle" class="et">Decidual stromal cells</text>
<path transform="translate(400.5,237.2)" d="M-4.90,-19.00 C-1.37,-19.65 2.53,-18.50 5.70,-16.60 C8.87,-14.70 11.68,-10.95 14.10,-7.60 C16.52,-4.25 19.92,-0.13 20.20,3.50 C20.48,7.13 18.68,11.62 15.80,14.20 C12.92,16.78 7.20,18.82 2.90,19.00 C-1.40,19.18 -6.47,17.32 -10.00,15.30 C-13.53,13.28 -16.60,10.07 -18.30,6.90 C-20.00,3.73 -20.67,-0.43 -20.20,-3.70 C-19.73,-6.97 -18.05,-10.15 -15.50,-12.70 C-12.95,-15.25 -8.43,-18.35 -4.90,-19.00Z" fill="url(#gNK1)" stroke="#a85a44" stroke-width="0.8"/>
<path transform="translate(390.2,237.39999999999998)" d="M-1.50,-6.40 C-0.57,-6.47 0.93,-5.63 1.40,-4.80 C1.87,-3.97 0.83,-2.53 1.30,-1.40 C1.77,-0.27 3.78,0.83 4.20,2.00 C4.62,3.17 4.43,4.83 3.80,5.60 C3.17,6.37 1.60,6.80 0.40,6.60 C-0.80,6.40 -2.53,5.47 -3.40,4.40 C-4.27,3.33 -4.67,1.67 -4.80,0.20 C-4.93,-1.27 -4.75,-3.30 -4.20,-4.40 C-3.65,-5.50 -2.43,-6.33 -1.50,-6.40Z" fill="url(#gNuc1)" stroke="#b84c18" stroke-width="0.75"/>
<circle cx="401.20" cy="227.30" r="1.2" fill="#c87454" stroke="#a05038" stroke-width="0.3"/>
<circle cx="397.50" cy="232.90" r="1.2" fill="#c87454" stroke="#a05038" stroke-width="0.3"/>
<circle cx="404.00" cy="233.10" r="1.2" fill="#c87454" stroke="#a05038" stroke-width="0.3"/>
<circle cx="400.40" cy="237.60" r="1.2" fill="#c87454" stroke="#a05038" stroke-width="0.3"/>
<circle cx="405.60" cy="241.30" r="1.2" fill="#c87454" stroke="#a05038" stroke-width="0.3"/>
<text x="393.8" y="250.2" class="cl">dNK1</text>
<path transform="translate(461.2,235.4)" d="M-4.90,-19.00 C-1.37,-19.65 2.53,-18.50 5.70,-16.60 C8.87,-14.70 11.68,-10.95 14.10,-7.60 C16.52,-4.25 19.92,-0.13 20.20,3.50 C20.48,7.13 18.68,11.62 15.80,14.20 C12.92,16.78 7.20,18.82 2.90,19.00 C-1.40,19.18 -6.47,17.32 -10.00,15.30 C-13.53,13.28 -16.60,10.07 -18.30,6.90 C-20.00,3.73 -20.67,-0.43 -20.20,-3.70 C-19.73,-6.97 -18.05,-10.15 -15.50,-12.70 C-12.95,-15.25 -8.43,-18.35 -4.90,-19.00Z" fill="url(#gNK2)" stroke="#4e9a3a" stroke-width="0.8"/>
<path transform="translate(450.9,235.6)" d="M-1.50,-6.40 C-0.57,-6.47 0.93,-5.63 1.40,-4.80 C1.87,-3.97 0.83,-2.53 1.30,-1.40 C1.77,-0.27 3.78,0.83 4.20,2.00 C4.62,3.17 4.43,4.83 3.80,5.60 C3.17,6.37 1.60,6.80 0.40,6.60 C-0.80,6.40 -2.53,5.47 -3.40,4.40 C-4.27,3.33 -4.67,1.67 -4.80,0.20 C-4.93,-1.27 -4.75,-3.30 -4.20,-4.40 C-3.65,-5.50 -2.43,-6.33 -1.50,-6.40Z" fill="#b4e27a" stroke="#2e6e2a" stroke-width="0.75"/>
<circle cx="462.00" cy="223.20" r="1.15" fill="#5aa248" stroke="#2a7a30" stroke-width="0.55"/>
<circle cx="465.00" cy="226.40" r="1.15" fill="#5aa248" stroke="#2a7a30" stroke-width="0.55"/>
<circle cx="464.00" cy="230.20" r="1.15" fill="#5aa248" stroke="#2a7a30" stroke-width="0.55"/>
<circle cx="467.00" cy="230.80" r="1.15" fill="#5aa248" stroke="#2a7a30" stroke-width="0.55"/>
<circle cx="471.00" cy="230.80" r="1.15" fill="#5aa248" stroke="#2a7a30" stroke-width="0.55"/>
<circle cx="469.40" cy="234.40" r="1.15" fill="#5aa248" stroke="#2a7a30" stroke-width="0.55"/>
<circle cx="465.00" cy="236.30" r="1.15" fill="#5aa248" stroke="#2a7a30" stroke-width="0.55"/>
<circle cx="466.60" cy="240.70" r="1.15" fill="#5aa248" stroke="#2a7a30" stroke-width="0.55"/>
<circle cx="474.30" cy="244.30" r="1.15" fill="#5aa248" stroke="#2a7a30" stroke-width="0.55"/>
<text x="450.9" y="248.6" class="cl">dNK2</text>
<path transform="translate(518.3,234)" d="M-4.90,-19.00 C-1.37,-19.65 2.53,-18.50 5.70,-16.60 C8.87,-14.70 11.68,-10.95 14.10,-7.60 C16.52,-4.25 19.92,-0.13 20.20,3.50 C20.48,7.13 18.68,11.62 15.80,14.20 C12.92,16.78 7.20,18.82 2.90,19.00 C-1.40,19.18 -6.47,17.32 -10.00,15.30 C-13.53,13.28 -16.60,10.07 -18.30,6.90 C-20.00,3.73 -20.67,-0.43 -20.20,-3.70 C-19.73,-6.97 -18.05,-10.15 -15.50,-12.70 C-12.95,-15.25 -8.43,-18.35 -4.90,-19.00Z" fill="url(#gNK3)" stroke="#2a5a2a" stroke-width="0.8"/>
<path transform="translate(507.99999999999994,234.2)" d="M-1.50,-6.40 C-0.57,-6.47 0.93,-5.63 1.40,-4.80 C1.87,-3.97 0.83,-2.53 1.30,-1.40 C1.77,-0.27 3.78,0.83 4.20,2.00 C4.62,3.17 4.43,4.83 3.80,5.60 C3.17,6.37 1.60,6.80 0.40,6.60 C-0.80,6.40 -2.53,5.47 -3.40,4.40 C-4.27,3.33 -4.67,1.67 -4.80,0.20 C-4.93,-1.27 -4.75,-3.30 -4.20,-4.40 C-3.65,-5.50 -2.43,-6.33 -1.50,-6.40Z" fill="url(#gNuc3)" stroke="#1a4a30" stroke-width="0.75"/>
<circle cx="516.50" cy="222.50" r="1.15" fill="#4e8e48" stroke="#1e5020" stroke-width="0.55"/>
<circle cx="527.00" cy="227.00" r="1.15" fill="#4e8e48" stroke="#1e5020" stroke-width="0.55"/>
<circle cx="518.90" cy="231.40" r="1.15" fill="#4e8e48" stroke="#1e5020" stroke-width="0.55"/>
<circle cx="522.60" cy="231.10" r="1.15" fill="#4e8e48" stroke="#1e5020" stroke-width="0.55"/>
<circle cx="519.50" cy="237.50" r="1.15" fill="#4e8e48" stroke="#1e5020" stroke-width="0.55"/>
<circle cx="524.70" cy="239.20" r="1.15" fill="#4e8e48" stroke="#1e5020" stroke-width="0.55"/>
<circle cx="524.70" cy="246.00" r="1.15" fill="#4e8e48" stroke="#1e5020" stroke-width="0.55"/>
<text x="504.3" y="248.6" class="cl">dNK3</text>
<path transform="translate(576.3,235.5)" d="M2.31,22.27 C1.03,22.31 -2.75,18.58 -4.30,18.39 C-5.84,18.20 -8.80,21.17 -9.85,20.75 C-10.90,20.34 -11.16,16.05 -12.57,15.12 C-13.98,14.19 -20.08,14.45 -20.98,13.41 C-21.87,12.37 -19.00,8.37 -19.65,6.91 C-20.30,5.44 -26.02,3.26 -26.12,1.82 C-26.22,0.39 -20.90,-2.91 -20.46,-4.41 C-20.01,-5.90 -23.05,-9.09 -22.61,-9.98 C-22.16,-10.87 -18.12,-10.28 -16.96,-11.44 C-15.80,-12.60 -14.74,-18.34 -13.47,-19.13 C-12.21,-19.92 -8.50,-17.25 -6.97,-17.69 C-5.44,-18.14 -2.61,-22.53 -1.42,-22.64 C-0.22,-22.75 0.84,-18.84 2.46,-18.55 C4.09,-18.26 10.05,-20.86 11.42,-20.35 C12.79,-19.84 12.11,-15.67 13.30,-14.54 C14.49,-13.40 19.93,-12.41 20.82,-11.38 C21.72,-10.34 19.76,-7.74 20.38,-6.38 C20.99,-5.03 25.66,-2.01 25.70,-0.68 C25.75,0.64 20.97,2.77 20.71,4.09 C20.45,5.40 24.32,8.58 23.64,9.68 C22.96,10.78 16.66,11.60 15.33,12.77 C14.00,13.95 14.32,18.30 13.12,18.97 C11.92,19.65 7.21,17.69 5.84,18.11 C4.47,18.53 3.60,22.24 2.31,22.27Z" fill="url(#gMac2)" stroke="#2c1c68" stroke-width="0.8"/>
<ellipse cx="572.6" cy="228.9" rx="9.4" ry="4.4" transform="rotate(-12 572.6 228.9)" fill="url(#gMN2)" stroke="#101018" stroke-width="0.5"/>
<circle cx="562.70" cy="227.80" r="0.7" fill="#111"/>
<circle cx="575.60" cy="218.40" r="0.7" fill="#111"/>
<circle cx="589.50" cy="227.80" r="0.7" fill="#111"/>
<circle cx="578.60" cy="233.80" r="0.7" fill="#111"/>
<ellipse cx="566.60" cy="239.70" rx="0.9" ry="1.2" fill="none" stroke="#1a1040" stroke-width="0.6"/>
<ellipse cx="575.20" cy="245.10" rx="0.9" ry="1.2" fill="none" stroke="#1a1040" stroke-width="0.6"/>
<ellipse cx="586.50" cy="245.70" rx="0.9" ry="1.2" fill="none" stroke="#1a1040" stroke-width="0.6"/>
<text x="576.8" y="241.8" class="cl">mac2</text>
<path transform="translate(637.2,233.6)" d="M-17.95,-16.38 C-16.73,-17.44 -11.15,-15.96 -9.61,-16.68 C-8.07,-17.41 -6.75,-21.86 -5.78,-22.10 C-4.80,-22.35 -3.58,-18.71 -1.89,-18.60 C-0.20,-18.49 5.95,-21.55 7.58,-21.24 C9.21,-20.94 9.73,-16.71 10.98,-16.19 C12.22,-15.67 16.51,-17.98 17.43,-17.14 C18.35,-16.31 17.39,-11.02 18.25,-9.59 C19.11,-8.15 23.76,-7.05 24.19,-5.84 C24.63,-4.63 21.69,-1.35 21.68,-0.03 C21.68,1.30 24.41,3.48 24.12,4.59 C23.83,5.70 20.15,7.20 19.41,8.71 C18.66,10.23 19.19,15.67 18.23,16.52 C17.28,17.37 13.14,14.78 11.87,15.43 C10.59,16.07 9.68,21.21 8.16,21.62 C6.64,22.02 1.51,18.68 -0.12,18.64 C-1.75,18.61 -3.20,21.67 -4.67,21.34 C-6.14,21.00 -10.20,16.64 -11.74,15.99 C-13.28,15.33 -15.87,17.13 -16.84,16.16 C-17.82,15.20 -18.42,9.60 -19.45,8.40 C-20.49,7.21 -24.80,7.97 -25.03,6.77 C-25.26,5.56 -21.32,0.48 -21.28,-1.13 C-21.23,-2.74 -24.95,-5.04 -24.69,-5.96 C-24.43,-6.88 -20.10,-7.07 -19.25,-8.39 C-18.39,-9.71 -19.17,-15.33 -17.95,-16.38Z" fill="url(#gMac1)" stroke="#6a2a7a" stroke-width="0.8"/>
<ellipse cx="633.8" cy="227.0" rx="9" ry="3.8" transform="rotate(-10 633.8 227.0)" fill="#cc90d8" stroke="#a020a8" stroke-width="0.8"/>
<circle cx="626.20" cy="230.60" r="0.9" fill="#7a3a9a" opacity="0.7"/>
<circle cx="641.20" cy="218.60" r="0.9" fill="#7a3a9a" opacity="0.7"/>
<circle cx="649.20" cy="225.60" r="0.9" fill="#7a3a9a" opacity="0.7"/>
<circle cx="632.20" cy="243.60" r="0.9" fill="#7a3a9a" opacity="0.7"/>
<circle cx="646.20" cy="241.60" r="0.9" fill="#7a3a9a" opacity="0.7"/>
<ellipse cx="629.20" cy="237.60" rx="1" ry="1.3" fill="none" stroke="#6a2a8a" stroke-width="0.6"/>
<ellipse cx="635.20" cy="244.60" rx="1" ry="1.3" fill="none" stroke="#6a2a8a" stroke-width="0.6"/>
<text x="637.8" y="236.7" class="cl">mac1</text>
<path transform="translate(405.1,341.2)" d="M-4.90,-19.00 C-1.37,-19.65 2.53,-18.50 5.70,-16.60 C8.87,-14.70 11.68,-10.95 14.10,-7.60 C16.52,-4.25 19.92,-0.13 20.20,3.50 C20.48,7.13 18.68,11.62 15.80,14.20 C12.92,16.78 7.20,18.82 2.90,19.00 C-1.40,19.18 -6.47,17.32 -10.00,15.30 C-13.53,13.28 -16.60,10.07 -18.30,6.90 C-20.00,3.73 -20.67,-0.43 -20.20,-3.70 C-19.73,-6.97 -18.05,-10.15 -15.50,-12.70 C-12.95,-15.25 -8.43,-18.35 -4.90,-19.00Z" fill="url(#gNK1)" stroke="#a85a44" stroke-width="0.8"/>
<path transform="translate(394.8,341.4)" d="M-1.50,-6.40 C-0.57,-6.47 0.93,-5.63 1.40,-4.80 C1.87,-3.97 0.83,-2.53 1.30,-1.40 C1.77,-0.27 3.78,0.83 4.20,2.00 C4.62,3.17 4.43,4.83 3.80,5.60 C3.17,6.37 1.60,6.80 0.40,6.60 C-0.80,6.40 -2.53,5.47 -3.40,4.40 C-4.27,3.33 -4.67,1.67 -4.80,0.20 C-4.93,-1.27 -4.75,-3.30 -4.20,-4.40 C-3.65,-5.50 -2.43,-6.33 -1.50,-6.40Z" fill="url(#gNuc1)" stroke="#b84c18" stroke-width="0.75"/>
<circle cx="405.80" cy="331.30" r="1.2" fill="#c87454" stroke="#a05038" stroke-width="0.3"/>
<circle cx="402.10" cy="336.90" r="1.2" fill="#c87454" stroke="#a05038" stroke-width="0.3"/>
<circle cx="408.60" cy="337.10" r="1.2" fill="#c87454" stroke="#a05038" stroke-width="0.3"/>
<circle cx="405.00" cy="341.60" r="1.2" fill="#c87454" stroke="#a05038" stroke-width="0.3"/>
<circle cx="410.20" cy="345.30" r="1.2" fill="#c87454" stroke="#a05038" stroke-width="0.3"/>
<text x="395.8" y="354.4" class="cl">dNK1</text>
<path transform="translate(463.2,341.2)" d="M-4.90,-19.00 C-1.37,-19.65 2.53,-18.50 5.70,-16.60 C8.87,-14.70 11.68,-10.95 14.10,-7.60 C16.52,-4.25 19.92,-0.13 20.20,3.50 C20.48,7.13 18.68,11.62 15.80,14.20 C12.92,16.78 7.20,18.82 2.90,19.00 C-1.40,19.18 -6.47,17.32 -10.00,15.30 C-13.53,13.28 -16.60,10.07 -18.30,6.90 C-20.00,3.73 -20.67,-0.43 -20.20,-3.70 C-19.73,-6.97 -18.05,-10.15 -15.50,-12.70 C-12.95,-15.25 -8.43,-18.35 -4.90,-19.00Z" fill="url(#gNK2)" stroke="#4e9a3a" stroke-width="0.8"/>
<path transform="translate(452.9,341.4)" d="M-1.50,-6.40 C-0.57,-6.47 0.93,-5.63 1.40,-4.80 C1.87,-3.97 0.83,-2.53 1.30,-1.40 C1.77,-0.27 3.78,0.83 4.20,2.00 C4.62,3.17 4.43,4.83 3.80,5.60 C3.17,6.37 1.60,6.80 0.40,6.60 C-0.80,6.40 -2.53,5.47 -3.40,4.40 C-4.27,3.33 -4.67,1.67 -4.80,0.20 C-4.93,-1.27 -4.75,-3.30 -4.20,-4.40 C-3.65,-5.50 -2.43,-6.33 -1.50,-6.40Z" fill="#b4e27a" stroke="#2e6e2a" stroke-width="0.75"/>
<circle cx="464.00" cy="329.00" r="1.15" fill="#5aa248" stroke="#2a7a30" stroke-width="0.55"/>
<circle cx="467.00" cy="332.20" r="1.15" fill="#5aa248" stroke="#2a7a30" stroke-width="0.55"/>
<circle cx="466.00" cy="336.00" r="1.15" fill="#5aa248" stroke="#2a7a30" stroke-width="0.55"/>
<circle cx="469.00" cy="336.60" r="1.15" fill="#5aa248" stroke="#2a7a30" stroke-width="0.55"/>
<circle cx="473.00" cy="336.60" r="1.15" fill="#5aa248" stroke="#2a7a30" stroke-width="0.55"/>
<circle cx="471.40" cy="340.20" r="1.15" fill="#5aa248" stroke="#2a7a30" stroke-width="0.55"/>
<circle cx="467.00" cy="342.10" r="1.15" fill="#5aa248" stroke="#2a7a30" stroke-width="0.55"/>
<circle cx="468.60" cy="346.50" r="1.15" fill="#5aa248" stroke="#2a7a30" stroke-width="0.55"/>
<circle cx="476.30" cy="350.10" r="1.15" fill="#5aa248" stroke="#2a7a30" stroke-width="0.55"/>
<text x="451.9" y="356.4" class="cl">dNK2</text>
<path transform="translate(518.5,341.2)" d="M-4.90,-19.00 C-1.37,-19.65 2.53,-18.50 5.70,-16.60 C8.87,-14.70 11.68,-10.95 14.10,-7.60 C16.52,-4.25 19.92,-0.13 20.20,3.50 C20.48,7.13 18.68,11.62 15.80,14.20 C12.92,16.78 7.20,18.82 2.90,19.00 C-1.40,19.18 -6.47,17.32 -10.00,15.30 C-13.53,13.28 -16.60,10.07 -18.30,6.90 C-20.00,3.73 -20.67,-0.43 -20.20,-3.70 C-19.73,-6.97 -18.05,-10.15 -15.50,-12.70 C-12.95,-15.25 -8.43,-18.35 -4.90,-19.00Z" fill="url(#gNK3)" stroke="#2a5a2a" stroke-width="0.8"/>
<path transform="translate(508.2,341.4)" d="M-1.50,-6.40 C-0.57,-6.47 0.93,-5.63 1.40,-4.80 C1.87,-3.97 0.83,-2.53 1.30,-1.40 C1.77,-0.27 3.78,0.83 4.20,2.00 C4.62,3.17 4.43,4.83 3.80,5.60 C3.17,6.37 1.60,6.80 0.40,6.60 C-0.80,6.40 -2.53,5.47 -3.40,4.40 C-4.27,3.33 -4.67,1.67 -4.80,0.20 C-4.93,-1.27 -4.75,-3.30 -4.20,-4.40 C-3.65,-5.50 -2.43,-6.33 -1.50,-6.40Z" fill="url(#gNuc3)" stroke="#1a4a30" stroke-width="0.75"/>
<circle cx="516.70" cy="329.70" r="1.15" fill="#4e8e48" stroke="#1e5020" stroke-width="0.55"/>
<circle cx="527.20" cy="334.20" r="1.15" fill="#4e8e48" stroke="#1e5020" stroke-width="0.55"/>
<circle cx="519.10" cy="338.60" r="1.15" fill="#4e8e48" stroke="#1e5020" stroke-width="0.55"/>
<circle cx="522.80" cy="338.30" r="1.15" fill="#4e8e48" stroke="#1e5020" stroke-width="0.55"/>
<circle cx="519.70" cy="344.70" r="1.15" fill="#4e8e48" stroke="#1e5020" stroke-width="0.55"/>
<circle cx="524.90" cy="346.40" r="1.15" fill="#4e8e48" stroke="#1e5020" stroke-width="0.55"/>
<circle cx="524.90" cy="353.20" r="1.15" fill="#4e8e48" stroke="#1e5020" stroke-width="0.55"/>
<text x="504.9" y="352.0" class="cl">dNK3</text>
<path transform="translate(578.2,341)" d="M-11.46,19.66 C-12.50,19.20 -11.97,16.18 -13.17,15.32 C-14.38,14.45 -20.14,13.87 -20.97,12.86 C-21.80,11.84 -19.18,8.61 -19.71,7.32 C-20.24,6.02 -25.02,4.00 -25.18,2.61 C-25.33,1.23 -21.30,-2.19 -20.96,-3.65 C-20.62,-5.10 -23.08,-7.74 -22.49,-8.89 C-21.91,-10.03 -17.25,-11.43 -16.33,-12.69 C-15.41,-13.95 -16.34,-18.17 -15.23,-18.81 C-14.12,-19.44 -9.48,-17.21 -7.57,-17.73 C-5.66,-18.26 -1.68,-22.82 -0.15,-22.93 C1.38,-23.05 2.92,-19.08 4.53,-18.66 C6.13,-18.23 11.44,-20.00 12.52,-19.57 C13.59,-19.14 11.90,-16.05 13.01,-15.26 C14.12,-14.47 20.46,-14.36 21.30,-13.32 C22.14,-12.27 19.23,-8.47 19.65,-7.01 C20.06,-5.55 24.42,-3.33 24.58,-1.83 C24.73,-0.33 21.21,3.32 20.89,4.84 C20.57,6.36 22.69,9.09 22.04,10.14 C21.40,11.19 16.85,12.04 15.79,13.15 C14.73,14.25 14.67,18.29 13.71,18.88 C12.74,19.46 9.62,17.39 8.18,17.77 C6.73,18.16 3.99,21.80 2.33,21.94 C0.67,22.08 -3.20,19.17 -4.95,18.88 C-6.69,18.59 -10.42,20.11 -11.46,19.66Z" fill="url(#gMac2)" stroke="#2c1c68" stroke-width="0.8"/>
<ellipse cx="574.7" cy="334.7" rx="9.4" ry="4.4" transform="rotate(-12 574.7 334.7)" fill="url(#gMN2)" stroke="#101018" stroke-width="0.5"/>
<circle cx="564.60" cy="333.30" r="0.7" fill="#111"/>
<circle cx="577.50" cy="323.90" r="0.7" fill="#111"/>
<circle cx="591.40" cy="333.30" r="0.7" fill="#111"/>
<circle cx="580.50" cy="339.30" r="0.7" fill="#111"/>
<ellipse cx="568.50" cy="345.20" rx="0.9" ry="1.2" fill="none" stroke="#1a1040" stroke-width="0.6"/>
<ellipse cx="577.10" cy="350.60" rx="0.9" ry="1.2" fill="none" stroke="#1a1040" stroke-width="0.6"/>
<ellipse cx="588.40" cy="351.20" rx="0.9" ry="1.2" fill="none" stroke="#1a1040" stroke-width="0.6"/>
<text x="579.8" y="345.1" class="cl">mac2</text>
<path transform="translate(642,336)" d="M-24.23,5.61 C-24.53,4.59 -20.93,2.20 -20.93,0.82 C-20.93,-0.56 -24.47,-4.17 -24.23,-5.29 C-23.98,-6.42 -19.81,-6.76 -19.02,-8.09 C-18.23,-9.41 -19.10,-14.64 -18.00,-15.73 C-16.90,-16.82 -11.63,-16.02 -10.32,-16.68 C-9.01,-17.34 -8.71,-20.62 -7.68,-20.95 C-6.65,-21.28 -3.94,-19.08 -2.18,-19.27 C-0.42,-19.47 4.90,-22.75 6.23,-22.51 C7.57,-22.28 6.79,-18.19 8.35,-17.40 C9.91,-16.62 17.33,-17.28 18.52,-16.30 C19.72,-15.32 17.15,-10.76 17.80,-9.66 C18.45,-8.57 23.28,-8.59 23.66,-7.65 C24.04,-6.70 20.67,-3.65 20.78,-2.19 C20.90,-0.73 24.81,2.58 24.58,3.89 C24.35,5.19 19.73,6.79 19.00,8.10 C18.28,9.41 19.80,13.20 18.83,14.24 C17.86,15.28 12.93,15.31 11.35,16.28 C9.76,17.25 7.68,21.52 6.33,21.89 C4.98,22.26 2.23,19.12 0.72,19.18 C-0.79,19.24 -4.20,22.70 -5.59,22.38 C-6.98,22.06 -8.88,17.32 -10.25,16.64 C-11.61,15.96 -15.33,18.00 -16.39,17.02 C-17.46,16.04 -17.63,10.33 -18.62,8.88 C-19.62,7.44 -23.94,6.63 -24.23,5.61Z" fill="url(#gMac1)" stroke="#6a2a7a" stroke-width="0.8"/>
<ellipse cx="638.6" cy="328.1" rx="9" ry="3.8" transform="rotate(-10 638.6 328.1)" fill="#cc90d8" stroke="#a020a8" stroke-width="0.8"/>
<circle cx="631.00" cy="333.00" r="0.9" fill="#7a3a9a" opacity="0.7"/>
<circle cx="646.00" cy="321.00" r="0.9" fill="#7a3a9a" opacity="0.7"/>
<circle cx="654.00" cy="328.00" r="0.9" fill="#7a3a9a" opacity="0.7"/>
<circle cx="637.00" cy="346.00" r="0.9" fill="#7a3a9a" opacity="0.7"/>
<circle cx="651.00" cy="344.00" r="0.9" fill="#7a3a9a" opacity="0.7"/>
<ellipse cx="634.00" cy="340.00" rx="1" ry="1.3" fill="none" stroke="#6a2a8a" stroke-width="0.6"/>
<ellipse cx="640.00" cy="347.00" rx="1" ry="1.3" fill="none" stroke="#6a2a8a" stroke-width="0.6"/>
<text x="643.6" y="340.6" class="cl">mac1</text>
<line x1="397.8" y1="254.6" x2="397.8" y2="272.8" stroke="#6e5e12" stroke-width="0.7"/>
<path d="M396.2,257.0 L397.8,256.1 L399.40000000000003,257.0 L397.8,257.9Z" fill="#d8ac22" stroke="#6e5e12" stroke-width="0.4"/>
<ellipse cx="397.8" cy="263.4" rx="1.15" ry="4.3" fill="#d8ac22" stroke="#6e5e12" stroke-width="0.5"/>
<path d="M396.2,270.0 L397.8,269.1 L399.40000000000003,270.0 L397.8,270.9Z" fill="#d8ac22" stroke="#6e5e12" stroke-width="0.4"/>
<line x1="392.8" y1="260.8" x2="392.8" y2="280.0" stroke="#6e5e12" stroke-width="0.7"/>
<ellipse cx="392.8" cy="266.0" rx="1.4" ry="4.2" fill="#d8ac22" stroke="#6e5e12" stroke-width="0.5"/>
<path d="M391.2,271.5 L392.8,270.6 L394.40000000000003,271.5 L392.8,272.4Z" fill="#d8ac22" stroke="#6e5e12" stroke-width="0.4"/>
<ellipse cx="392.8" cy="275.2" rx="1.4" ry="2.3" fill="#d8ac22" stroke="#6e5e12" stroke-width="0.5"/>
<text x="400.7" y="265.2" class="rl">JAG1</text>
<text x="388.3" y="269.0" class="rl" text-anchor="end">NOTCH</text>
<line x1="454.9" y1="251.0" x2="454.9" y2="269.8" stroke="#6e5e12" stroke-width="0.7"/>
<path d="M453.29999999999995,254.2 L454.9,253.29999999999998 L456.5,254.2 L454.9,255.1Z" fill="#d8ac22" stroke="#6e5e12" stroke-width="0.4"/>
<ellipse cx="454.9" cy="259.6" rx="1.1" ry="3.7" fill="#d8ac22" stroke="#6e5e12" stroke-width="0.5"/>
<path d="M453.29999999999995,266.4 L454.9,265.5 L456.5,266.4 L454.9,267.29999999999995Z" fill="#d8ac22" stroke="#6e5e12" stroke-width="0.4"/>
<line x1="450.3" y1="256.8" x2="450.3" y2="275.2" stroke="#6e5e12" stroke-width="0.7"/>
<ellipse cx="450.3" cy="261.6" rx="1.5" ry="4.0" fill="#d8ac22" stroke="#6e5e12" stroke-width="0.5"/>
<path d="M448.7,266.6 L450.3,265.70000000000005 L451.90000000000003,266.6 L450.3,267.5Z" fill="#d8ac22" stroke="#6e5e12" stroke-width="0.4"/>
<ellipse cx="450.3" cy="270.6" rx="1.5" ry="2.5" fill="#d8ac22" stroke="#6e5e12" stroke-width="0.5"/>
<text x="457.4" y="261.7" class="rl">JAG1</text>
<text x="447.0" y="272.0" class="rl" text-anchor="end">NOTCH</text>
<circle cx="557.4" cy="253.4" r="1.3" fill="#f8b028" stroke="none" stroke-width="0.3"/><circle cx="560.0" cy="254.2" r="1.3" fill="#f8b028" stroke="none" stroke-width="0.3"/><circle cx="562.4" cy="253.0" r="1.3" fill="#f8b028" stroke="none" stroke-width="0.3"/><circle cx="559.0" cy="256.0" r="1.3" fill="#f8b028" stroke="none" stroke-width="0.3"/>
<text x="556.2" y="258.7" class="rl" text-anchor="end">IL10</text>
<path d="M563.3,257.8 Q564.6,261 563.2,264.2" fill="none" stroke="#333" stroke-width="0.55" stroke-dasharray="1.1 0.9" marker-end="url(#ah)"/>
<ellipse cx="557.5999999999999" cy="267.75" rx="3.8000000000000114" ry="6.649999999999977" fill="#963a12" stroke="#6a2808" stroke-width="0.4"/><rect x="556.3999999999999" y="260.1" width="2.4" height="15.299999999999955" rx="1.1" fill="#a84818"/><line x1="555.3999999999999" y1="262.6" x2="555.3999999999999" y2="272.9" stroke="#f0a828" stroke-width="0.65"/><line x1="557.5999999999999" y1="262.6" x2="557.5999999999999" y2="272.9" stroke="#f0a828" stroke-width="0.65"/><line x1="559.8" y1="262.6" x2="559.8" y2="272.9" stroke="#f0a828" stroke-width="0.65"/>
<text x="562.8" y="272.0" class="rl">IL10R</text>
<circle cx="615.0" cy="249.6" r="1.3" fill="#f8b028" stroke="none" stroke-width="0.3"/><circle cx="617.6" cy="250.6" r="1.3" fill="#f8b028" stroke="none" stroke-width="0.3"/><circle cx="620.0" cy="249.4" r="1.3" fill="#f8b028" stroke="none" stroke-width="0.3"/><circle cx="616.6" cy="252.4" r="1.3" fill="#f8b028" stroke="none" stroke-width="0.3"/>
<text x="604.9" y="247.9" class="rl">IL10</text>
<path d="M616.8,254.0 Q616.2,259.5 613.2,264.0" fill="none" stroke="#333" stroke-width="0.55" stroke-dasharray="1.1 0.9" marker-end="url(#ah)"/>
<ellipse cx="608.3" cy="270.6" rx="3.900000000000034" ry="6.599999999999994" fill="#963a12" stroke="#6a2808" stroke-width="0.4"/><rect x="607.0999999999999" y="263.0" width="2.4" height="15.199999999999989" rx="1.1" fill="#a84818"/><line x1="606.0999999999999" y1="265.5" x2="606.0999999999999" y2="275.7" stroke="#f0a828" stroke-width="0.65"/><line x1="608.3" y1="265.5" x2="608.3" y2="275.7" stroke="#f0a828" stroke-width="0.65"/><line x1="610.5" y1="265.5" x2="610.5" y2="275.7" stroke="#f0a828" stroke-width="0.65"/>
<text x="603.9" y="267.1" class="rl" text-anchor="end">IL10R</text>
<circle cx="632.4" cy="254.2" r="1.25" fill="#a02c44" stroke="none" stroke-width="0.3"/><circle cx="634.8" cy="255.6" r="1.25" fill="#a02c44" stroke="none" stroke-width="0.3"/><circle cx="633.2" cy="257.4" r="1.25" fill="#a02c44" stroke="none" stroke-width="0.3"/>
<text x="633.2" y="264.6" class="rl">PDGFB</text>
<path d="M630.2,254.6 Q626.5,257 626.0,262.6" fill="none" stroke="#333" stroke-width="0.55" stroke-dasharray="1.1 0.9" marker-end="url(#ah)"/>
<path d="M622.4,264.0 Q624.92,264.6 626.0,267.6 Q627.08,264.6 629.6,264.0 M626.0,267.6 L626.0,277.0" fill="none" stroke="#8c2434" stroke-width="1.1" stroke-linecap="round"/>
<text x="628.0" y="276.2" class="rl">PDGFRB</text>
<circle cx="657.0" cy="249.6" r="1.3" fill="#2a2a8c" stroke="none" stroke-width="0.3"/><circle cx="659.8" cy="249.2" r="1.3" fill="#2a2a8c" stroke="none" stroke-width="0.3"/><circle cx="658.6" cy="252.0" r="1.3" fill="#2a2a8c" stroke="none" stroke-width="0.3"/>
<text x="661.8" y="255.0" class="rl">PTN</text>
<path d="M658.4,253.6 Q660,262 657.2,270.6" fill="none" stroke="#333" stroke-width="0.55" stroke-dasharray="1.1 0.9" marker-end="url(#ah)"/>
<path d="M653.9,271.8 L656.8499999999999,275.40000000000003 L659.8,271.8 L659.8,279.8 L653.9,279.8Z" fill="#3a78d4" stroke="#2a58a8" stroke-width="0.3"/><rect x="656.3499999999999" y="276.8" width="1" height="1.6" fill="#a8c8f0"/>
<text x="659.9" y="276.5" class="rl">PLXNB2</text>
<path d="M394.6,296.4 L395.6,298.115 L393.6,299.34 L394.6,301.3" fill="none" stroke="#a040d8" stroke-width="0.9"/><rect x="392.90000000000003" y="301.3" width="3.4" height="6.0" rx="0.3" fill="#b8902c" stroke="none" stroke-width="0.5"/><circle cx="394.6" cy="302.8" r="0.35" fill="#e8c860"/><circle cx="394.6" cy="304.5" r="0.35" fill="#e8c860"/><circle cx="394.6" cy="306.2" r="0.35" fill="#e8c860"/><rect x="392.90000000000003" y="307.3" width="3.4" height="6.099999999999966" rx="1.2" fill="#c844d4" stroke="none" stroke-width="0.5"/>
<text x="389.5" y="303.6" class="rl" text-anchor="end">TNFR</text>
<path d="M408.0,300.2 L409.0,301.915 L407.0,303.14 L408.0,305.1" fill="none" stroke="#a040d8" stroke-width="0.9"/><rect x="406.3" y="305.1" width="3.4" height="6.599999999999966" rx="0.3" fill="#b8902c" stroke="none" stroke-width="0.5"/><circle cx="408.0" cy="306.6" r="0.35" fill="#e8c860"/><circle cx="408.0" cy="308.3" r="0.35" fill="#e8c860"/><circle cx="408.0" cy="310.0" r="0.35" fill="#e8c860"/><rect x="406.3" y="311.7" width="3.4" height="6.0" rx="1.2" fill="url(#gFas)"/>
<text x="412.7" y="310.7" class="rl">FAS</text>
<circle cx="437.4" cy="325.2" r="1.35" fill="#f8a030" stroke="none" stroke-width="0.3"/><circle cx="440.0" cy="327.8" r="1.35" fill="#f8a030" stroke="none" stroke-width="0.3"/><circle cx="442.0" cy="325.0" r="1.35" fill="#f8a030" stroke="none" stroke-width="0.3"/>
<text x="426.6" y="335.0" class="rl">TNF</text>
<text x="379.9" y="337.2" class="rl">TNF</text>
<path d="M384.5,329.5 Q391,325 394.4,316.8" fill="none" stroke="#333" stroke-width="0.55" stroke-dasharray="1.1 0.9" marker-end="url(#ah)"/>
<path d="M394.5,322.0 Q399,318.5 403.8,317.6" fill="none" stroke="#333" stroke-width="0.55" stroke-dasharray="1.1 0.9" marker-end="url(#ah)"/>
<path d="M436.0,325.0 Q425,318.5 412.2,318.2" fill="none" stroke="#333" stroke-width="0.55" stroke-dasharray="1.1 0.9" marker-end="url(#ah)"/>
<path d="M443.0,324.0 Q451,317 458.6,318.8" fill="none" stroke="#333" stroke-width="0.55" stroke-dasharray="1.1 0.9" marker-end="url(#ah)"/>
<path d="M461.4,299.0 L462.4,300.68 L460.4,301.88 L461.4,303.8" fill="none" stroke="#a040d8" stroke-width="0.9"/><rect x="459.7" y="303.8" width="3.4" height="7.399999999999977" rx="0.3" fill="#b8902c" stroke="none" stroke-width="0.5"/><circle cx="461.4" cy="305.3" r="0.35" fill="#e8c860"/><circle cx="461.4" cy="307.0" r="0.35" fill="#e8c860"/><circle cx="461.4" cy="308.7" r="0.35" fill="#e8c860"/><rect x="459.7" y="311.2" width="3.4" height="9.0" rx="1.2" fill="#c844d4" stroke="none" stroke-width="0.5"/>
<text x="457.8" y="312.1" class="rl" text-anchor="end">TNFR</text>
<path d="M471.0,299.0 L472.0,300.68 L470.0,301.88 L471.0,303.8" fill="none" stroke="#a040d8" stroke-width="0.9"/><rect x="469.3" y="303.8" width="3.4" height="7.399999999999977" rx="0.3" fill="#b8902c" stroke="none" stroke-width="0.5"/><circle cx="471.0" cy="305.3" r="0.35" fill="#e8c860"/><circle cx="471.0" cy="307.0" r="0.35" fill="#e8c860"/><circle cx="471.0" cy="308.7" r="0.35" fill="#e8c860"/><rect x="469.3" y="311.2" width="3.4" height="9.0" rx="1.2" fill="url(#gFas)"/>
<text x="473.4" y="313.1" class="rl">FAS</text>
<path d="M488.6,299.0 L489.6,300.68 L487.6,301.88 L488.6,303.8" fill="none" stroke="#a040d8" stroke-width="0.9"/><rect x="486.90000000000003" y="303.8" width="3.4" height="8.0" rx="0.3" fill="#b8902c" stroke="none" stroke-width="0.5"/><circle cx="488.6" cy="305.3" r="0.35" fill="#e8c860"/><circle cx="488.6" cy="307.0" r="0.35" fill="#e8c860"/><circle cx="488.6" cy="308.7" r="0.35" fill="#e8c860"/><rect x="486.90000000000003" y="311.8" width="3.4" height="7.0" rx="1.2" fill="#c844d4" stroke="none" stroke-width="0.5"/>
<text x="492.0" y="312.8" class="rl">TNFR</text>
<circle cx="494.0" cy="328.4" r="1.35" fill="#f8a030" stroke="none" stroke-width="0.3"/><circle cx="496.6" cy="331.0" r="1.35" fill="#f8a030" stroke="none" stroke-width="0.3"/><circle cx="499.0" cy="328.4" r="1.35" fill="#f8a030" stroke="none" stroke-width="0.3"/>
<text x="486.7" y="349.6" class="rl" style="font-size:5px">TNF</text>
<path d="M493.0,329.0 Q484,326 473.6,321.0" fill="none" stroke="#333" stroke-width="0.55" stroke-dasharray="1.1 0.9" marker-end="url(#ah)"/>
<path d="M493.6,327.0 Q490,324 488.8,320.8" fill="none" stroke="#333" stroke-width="0.55" stroke-dasharray="1.1 0.9" marker-end="url(#ah)"/>
<ellipse cx="532.8" cy="309.4" rx="1.4" ry="4.5" fill="#c87c2c" stroke="#8a4a14" stroke-width="0.6"/>
<text x="530.8" y="312.1" class="rl" text-anchor="end">COPA</text>
<rect x="525.4" y="314.9" width="6.3" height="11.9" rx="1.6" fill="url(#gCD74)"/>
<text x="525.4" y="321.1" class="rl" text-anchor="end">CD74</text>
<circle cx="540.4" cy="306.6" r="1.25" fill="#f8a030" stroke="none" stroke-width="0.3"/><circle cx="543.2" cy="307.8" r="1.25" fill="#f8a030" stroke="none" stroke-width="0.3"/><circle cx="541.2" cy="310.4" r="1.25" fill="#f8a030" stroke="none" stroke-width="0.3"/>
<text x="541.3" y="318.1" class="rl">MIF</text>
<path d="M540.0,310.6 Q536.5,314 533.0,318.0" fill="none" stroke="#333" stroke-width="0.45" marker-end="url(#ah)"/>
<line x1="563.55" y1="305.9" x2="563.55" y2="319.8" stroke="#4a40b8" stroke-width="0.6"/><ellipse cx="563.55" cy="310.76" rx="2.4499999999999886" ry="1.15" fill="#e8e4f8" stroke="#4a40b8" stroke-width="0.7"/><ellipse cx="563.55" cy="313.55" rx="2.4499999999999886" ry="1.15" fill="#e8e4f8" stroke="#4a40b8" stroke-width="0.7"/><ellipse cx="563.55" cy="316.32" rx="2.4499999999999886" ry="1.15" fill="#e8e4f8" stroke="#4a40b8" stroke-width="0.7"/>
<text x="566.6" y="317.7" class="rl">CD44</text>
<rect x="556.6" y="315.9" width="2.0" height="21.900000000000034" rx="0.9" fill="#6070d0" stroke="#3a48a0" stroke-width="0.35"/><rect x="558.6" y="315.9" width="2.0" height="21.900000000000034" rx="0.9" fill="#6070d0" stroke="#3a48a0" stroke-width="0.35"/>
<text x="555.6" y="332.1" class="rl" text-anchor="end">HBEGF</text>
<path d="M613.3,302.9 L613.3,312.7 Q613.3,314.29999999999995 610.9,314.9 M615.7,302.9 L615.7,312.7 Q615.7,314.29999999999995 618.1,314.9 M613.3,312.7 Q614.5,314.7 615.7,312.7" fill="none" stroke="#f4a890" stroke-width="0.85" stroke-linecap="round"/>
<text x="610.6" y="311.2" class="rl" text-anchor="end">TGFβ-R2</text>
<path d="M622.8,301.9 L622.8,311.3 Q622.8,312.9 620.4,313.5 M625.8,301.9 L625.8,311.3 Q625.8,312.9 628.1999999999999,313.5 M622.8,311.3 Q624.3,313.3 625.8,311.3" fill="none" stroke="#f06828" stroke-width="0.9" stroke-linecap="round"/>
<text x="629.1" y="309.2" class="rl">EGFR</text>
<circle cx="608.4" cy="335.0" r="1.05" fill="#d8843a" stroke="#b06020" stroke-width="0.3"/><circle cx="610.4" cy="337.4" r="1.05" fill="#d8843a" stroke="#b06020" stroke-width="0.3"/><circle cx="608.0" cy="339.6" r="1.05" fill="#d8843a" stroke="#b06020" stroke-width="0.3"/>
<text x="604.1" y="349.0" class="rl">TGFβ</text>
<path d="M608.2,333.4 Q609,324 613.4,316.6" fill="none" stroke="#333" stroke-width="0.55" stroke-dasharray="1.1 0.9" marker-end="url(#ah)"/>
<path d="M610.8,334.2 Q616,325 622.8,315.4" fill="none" stroke="#333" stroke-width="0.55" stroke-dasharray="1.1 0.9" marker-end="url(#ah)"/>
<line x1="662.45" y1="296.8" x2="662.45" y2="310.2" stroke="#4a40b8" stroke-width="0.6"/><ellipse cx="662.45" cy="301.49" rx="1.9499999999999886" ry="1.15" fill="#e8e4f8" stroke="#4a40b8" stroke-width="0.7"/><ellipse cx="662.45" cy="304.17" rx="1.9499999999999886" ry="1.15" fill="#e8e4f8" stroke="#4a40b8" stroke-width="0.7"/><ellipse cx="662.45" cy="306.85" rx="1.9499999999999886" ry="1.15" fill="#e8e4f8" stroke="#4a40b8" stroke-width="0.7"/>
<text x="666.0" y="308.7" class="rl">CD44</text>
<rect x="655.9" y="306.8" width="2.25" height="15.800000000000011" rx="0.9" fill="#6070d0" stroke="#3a48a0" stroke-width="0.35"/><rect x="658.15" y="306.8" width="2.25" height="15.800000000000011" rx="0.9" fill="#6070d0" stroke="#3a48a0" stroke-width="0.35"/>
<text x="661.5" y="319.2" class="rl">HBEGF</text>
</g>
<text x="364" y="222.2" class="ct">Ctrl</text>
<text x="364" y="359.3" class="ct">RPL</text>
<text x="358.8" y="200.2" class="pl">c</text>
</svg>
</body></html>
